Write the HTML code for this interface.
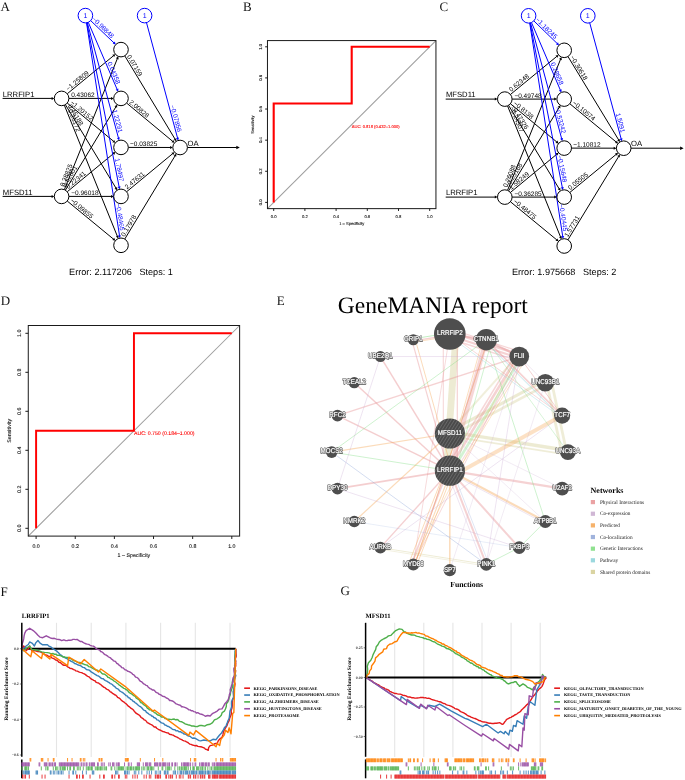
<!DOCTYPE html>
<html lang="en"><head><meta charset="utf-8"><title>Figure</title>
<style>html,body{margin:0;padding:0;background:#fff;}body{width:685px;height:780px;position:relative;overflow:hidden;font-family:"Liberation Sans",sans-serif;}svg text{white-space:pre;}</style></head>
<body>
<svg width="685" height="780" viewBox="0 0 685 780" text-rendering="geometricPrecision" style="display:block;position:absolute;left:0;top:0;will-change:transform;transform:translateZ(0)">
<rect width="685" height="780" fill="#fff"/>
<g>
<line x1="67.24" y1="93.77" x2="113.66" y2="55.63" stroke="#000" stroke-width="1.0"/>
<polygon points="115.36,54.23 114.23,57.11 112.32,54.79" fill="#000"/>
<line x1="68.9" y1="98.4" x2="111.5" y2="98.4" stroke="#000" stroke-width="1.0"/>
<polygon points="113.7,98.4 111,99.9 111,96.9" fill="#000"/>
<line x1="67.23" y1="103.05" x2="113.67" y2="141.35" stroke="#000" stroke-width="1.0"/>
<polygon points="115.37,142.75 112.33,142.19 114.24,139.88" fill="#000"/>
<line x1="65.38" y1="104.64" x2="116.08" y2="188.28" stroke="#000" stroke-width="1.0"/>
<polygon points="117.22,190.16 114.53,188.63 117.1,187.07" fill="#000"/>
<line x1="64.34" y1="105.17" x2="117.44" y2="236.49" stroke="#000" stroke-width="1.0"/>
<polygon points="118.26,238.53 115.86,236.59 118.64,235.47" fill="#000"/>
<line x1="64.34" y1="189.63" x2="117.44" y2="58.41" stroke="#000" stroke-width="1.0"/>
<polygon points="118.26,56.37 118.64,59.43 115.86,58.31" fill="#000"/>
<line x1="65.38" y1="190.16" x2="116.08" y2="106.52" stroke="#000" stroke-width="1.0"/>
<polygon points="117.22,104.64 117.1,107.73 114.53,106.17" fill="#000"/>
<line x1="67.23" y1="191.75" x2="113.67" y2="153.45" stroke="#000" stroke-width="1.0"/>
<polygon points="115.37,152.05 114.24,154.92 112.33,152.61" fill="#000"/>
<line x1="68.9" y1="196.4" x2="111.5" y2="196.4" stroke="#000" stroke-width="1.0"/>
<polygon points="113.7,196.4 111,197.9 111,194.9" fill="#000"/>
<line x1="67.24" y1="201.04" x2="113.67" y2="239.26" stroke="#000" stroke-width="1.0"/>
<polygon points="115.36,240.66 112.33,240.1 114.23,237.79" fill="#000"/>
<line x1="124.77" y1="55.85" x2="175.19" y2="139.37" stroke="#000" stroke-width="1.0"/>
<polygon points="176.33,141.25 173.65,139.71 176.22,138.16" fill="#000"/>
<line x1="126.62" y1="103.06" x2="172.79" y2="141.43" stroke="#000" stroke-width="1.0"/>
<polygon points="174.48,142.84 171.45,142.26 173.37,139.96" fill="#000"/>
<line x1="128.3" y1="147.41" x2="170.6" y2="147.48" stroke="#000" stroke-width="1.0"/>
<polygon points="172.8,147.49 170.1,148.98 170.1,145.98" fill="#000"/>
<line x1="126.62" y1="191.75" x2="172.78" y2="153.56" stroke="#000" stroke-width="1.0"/>
<polygon points="174.48,152.15 173.35,155.03 171.44,152.72" fill="#000"/>
<line x1="124.78" y1="239.05" x2="175.19" y2="155.63" stroke="#000" stroke-width="1.0"/>
<polygon points="176.32,153.75 176.21,156.83 173.64,155.28" fill="#000"/>
<line x1="90.68" y1="20.64" x2="114.13" y2="43.04" stroke="#0000ff" stroke-width="1.0"/>
<polygon points="115.72,44.56 112.73,43.78 114.8,41.61" fill="#0000ff"/>
<line x1="88.28" y1="22.31" x2="117.25" y2="89.67" stroke="#0000ff" stroke-width="1.0"/>
<polygon points="118.12,91.69 115.67,89.81 118.43,88.62" fill="#0000ff"/>
<line x1="87.3" y1="22.65" x2="118.52" y2="138.23" stroke="#0000ff" stroke-width="1.0"/>
<polygon points="119.1,140.35 116.94,138.14 119.84,137.35" fill="#0000ff"/>
<line x1="86.81" y1="22.76" x2="119.16" y2="187.08" stroke="#0000ff" stroke-width="1.0"/>
<polygon points="119.59,189.24 117.6,186.88 120.54,186.3" fill="#0000ff"/>
<line x1="86.52" y1="22.81" x2="119.55" y2="235.91" stroke="#0000ff" stroke-width="1.0"/>
<polygon points="119.88,238.09 117.99,235.65 120.95,235.19" fill="#0000ff"/>
<line x1="146.5" y1="22.65" x2="177.63" y2="138.33" stroke="#0000ff" stroke-width="1.0"/>
<polygon points="178.2,140.45 176.05,138.23 178.95,137.45" fill="#0000ff"/>
<line x1="2.6" y1="98.4" x2="52.1" y2="98.4" stroke="#000" stroke-width="1.0"/>
<polygon points="54.3,98.4 51.6,99.9 51.6,96.9" fill="#000"/>
<line x1="2.6" y1="196.4" x2="52.1" y2="196.4" stroke="#000" stroke-width="1.0"/>
<polygon points="54.3,196.4 51.6,197.9 51.6,194.9" fill="#000"/>
<line x1="187.4" y1="147.5" x2="236.8" y2="147.5" stroke="#000" stroke-width="1.0"/>
<polygon points="239.8,147.5 236.3,149.2 236.3,145.8" fill="#000"/>
<circle cx="61.6" cy="98.4" r="7.3" fill="#fff" stroke="#000" stroke-width="1.0"/>
<circle cx="61.6" cy="196.4" r="7.3" fill="#fff" stroke="#000" stroke-width="1.0"/>
<circle cx="121" cy="49.6" r="7.3" fill="#fff" stroke="#000" stroke-width="1.0"/>
<circle cx="121" cy="98.4" r="7.3" fill="#fff" stroke="#000" stroke-width="1.0"/>
<circle cx="121" cy="147.4" r="7.3" fill="#fff" stroke="#000" stroke-width="1.0"/>
<circle cx="121" cy="196.4" r="7.3" fill="#fff" stroke="#000" stroke-width="1.0"/>
<circle cx="121" cy="245.3" r="7.3" fill="#fff" stroke="#000" stroke-width="1.0"/>
<circle cx="180.1" cy="147.5" r="7.3" fill="#fff" stroke="#000" stroke-width="1.0"/>
<circle cx="85.4" cy="15.6" r="7.3" fill="#fff" stroke="#0000ff" stroke-width="1.0"/>
<text x="85.4" y="18.1" font-size="7" fill="#0000ff" text-anchor="middle" font-family="Liberation Sans, sans-serif">1</text>
<circle cx="144.6" cy="15.6" r="7.3" fill="#fff" stroke="#0000ff" stroke-width="1.0"/>
<text x="144.6" y="18.1" font-size="7" fill="#0000ff" text-anchor="middle" font-family="Liberation Sans, sans-serif">1</text>
<text transform="translate(69.02,92.31) rotate(-39.4)" y="-1.4" font-size="6.5" fill="#000" text-anchor="start" font-family="Liberation Sans, sans-serif">−1.25809</text>
<text transform="translate(71.2,98.4) rotate(0)" y="-1.4" font-size="6.5" fill="#000" text-anchor="start" font-family="Liberation Sans, sans-serif">0.43062</text>
<text transform="translate(69.01,104.51) rotate(39.52)" y="-1.4" font-size="6.5" fill="#000" text-anchor="start" font-family="Liberation Sans, sans-serif">−1.20152</text>
<text transform="translate(66.58,106.61) rotate(58.78)" y="-1.4" font-size="6.5" fill="#000" text-anchor="start" font-family="Liberation Sans, sans-serif">0.46188</text>
<text transform="translate(65.2,107.3) rotate(67.98)" y="-1.4" font-size="6.5" fill="#000" text-anchor="start" font-family="Liberation Sans, sans-serif">−0.26172</text>
<text transform="translate(65.2,187.5) rotate(-67.97)" y="-1.4" font-size="6.5" fill="#000" text-anchor="start" font-family="Liberation Sans, sans-serif">0.28825</text>
<text transform="translate(66.58,188.19) rotate(-58.78)" y="-1.4" font-size="6.5" fill="#000" text-anchor="start" font-family="Liberation Sans, sans-serif">0.52801</text>
<text transform="translate(69.01,190.29) rotate(-39.52)" y="-1.4" font-size="6.5" fill="#000" text-anchor="start" font-family="Liberation Sans, sans-serif">0.22341</text>
<text transform="translate(71.2,196.4) rotate(0)" y="-1.4" font-size="6.5" fill="#000" text-anchor="start" font-family="Liberation Sans, sans-serif">−0.96018</text>
<text transform="translate(69.01,202.5) rotate(39.46)" y="-1.4" font-size="6.5" fill="#000" text-anchor="start" font-family="Liberation Sans, sans-serif">−0.09855</text>
<text transform="translate(125.65,57.3) rotate(58.88)" y="-1.4" font-size="6.5" fill="#000" text-anchor="start" font-family="Liberation Sans, sans-serif">0.07159</text>
<text transform="translate(127.92,104.15) rotate(39.72)" y="-1.4" font-size="6.5" fill="#000" text-anchor="start" font-family="Liberation Sans, sans-serif">2.00828</text>
<text transform="translate(130,147.42) rotate(0.1)" y="-1.4" font-size="6.5" fill="#000" text-anchor="start" font-family="Liberation Sans, sans-serif">−0.03825</text>
<text transform="translate(127.93,190.66) rotate(-39.6)" y="-1.4" font-size="6.5" fill="#000" text-anchor="start" font-family="Liberation Sans, sans-serif">2.47631</text>
<text transform="translate(125.65,237.6) rotate(-58.86)" y="-1.4" font-size="6.5" fill="#000" text-anchor="start" font-family="Liberation Sans, sans-serif">0.17978</text>
<text transform="translate(110.51,39.59) rotate(43.68)" y="-1.4" font-size="6.5" fill="#0000ff" text-anchor="end" font-family="Liberation Sans, sans-serif">−0.98848</text>
<text transform="translate(115.27,85.08) rotate(66.73)" y="-1.4" font-size="6.5" fill="#0000ff" text-anchor="end" font-family="Liberation Sans, sans-serif">0.04358</text>
<text transform="translate(117.22,133.4) rotate(74.88)" y="-1.4" font-size="6.5" fill="#0000ff" text-anchor="end" font-family="Liberation Sans, sans-serif">1.22291</text>
<text transform="translate(118.2,182.17) rotate(78.86)" y="-1.4" font-size="6.5" fill="#0000ff" text-anchor="end" font-family="Liberation Sans, sans-serif">1.78497</text>
<text transform="translate(118.78,230.97) rotate(81.19)" y="-1.4" font-size="6.5" fill="#0000ff" text-anchor="end" font-family="Liberation Sans, sans-serif">−0.48465</text>
<text transform="translate(176.07,132.53) rotate(74.94)" y="-1.4" font-size="6.5" fill="#0000ff" text-anchor="end" font-family="Liberation Sans, sans-serif">−0.07856</text>
<text x="2.8" y="96.7" font-size="7.7" fill="#000" font-family="Liberation Sans, sans-serif">LRRFIP1</text>
<text x="2.8" y="194.7" font-size="7.7" fill="#000" font-family="Liberation Sans, sans-serif">MFSD11</text>
<text x="187.5" y="145.7" font-size="7.7" fill="#000" font-family="Liberation Sans, sans-serif">OA</text>
<text x="121" y="274.6" font-size="9.15" fill="#000" text-anchor="middle" xml:space="preserve" font-family="Liberation Sans, sans-serif">Error: 2.117206   Steps: 1</text>
</g>
<g>
<line x1="510.44" y1="94.47" x2="556.86" y2="56.33" stroke="#000" stroke-width="1.0"/>
<polygon points="558.56,54.93 557.43,57.81 555.52,55.49" fill="#000"/>
<line x1="512.1" y1="99.1" x2="554.7" y2="99.1" stroke="#000" stroke-width="1.0"/>
<polygon points="556.9,99.1 554.2,100.6 554.2,97.6" fill="#000"/>
<line x1="510.43" y1="103.75" x2="556.87" y2="142.05" stroke="#000" stroke-width="1.0"/>
<polygon points="558.57,143.45 555.53,142.89 557.44,140.58" fill="#000"/>
<line x1="508.58" y1="105.34" x2="559.28" y2="188.98" stroke="#000" stroke-width="1.0"/>
<polygon points="560.42,190.86 557.73,189.33 560.3,187.77" fill="#000"/>
<line x1="507.54" y1="105.87" x2="560.64" y2="237.19" stroke="#000" stroke-width="1.0"/>
<polygon points="561.46,239.23 559.06,237.29 561.84,236.17" fill="#000"/>
<line x1="507.54" y1="190.33" x2="560.64" y2="59.11" stroke="#000" stroke-width="1.0"/>
<polygon points="561.46,57.07 561.84,60.13 559.06,59.01" fill="#000"/>
<line x1="508.58" y1="190.86" x2="559.28" y2="107.22" stroke="#000" stroke-width="1.0"/>
<polygon points="560.42,105.34 560.3,108.43 557.73,106.87" fill="#000"/>
<line x1="510.43" y1="192.45" x2="556.87" y2="154.15" stroke="#000" stroke-width="1.0"/>
<polygon points="558.57,152.75 557.44,155.62 555.53,153.31" fill="#000"/>
<line x1="512.1" y1="197.1" x2="554.7" y2="197.1" stroke="#000" stroke-width="1.0"/>
<polygon points="556.9,197.1 554.2,198.6 554.2,195.6" fill="#000"/>
<line x1="510.44" y1="201.74" x2="556.87" y2="239.96" stroke="#000" stroke-width="1.0"/>
<polygon points="558.56,241.36 555.53,240.8 557.43,238.49" fill="#000"/>
<line x1="567.99" y1="56.54" x2="618.77" y2="140.08" stroke="#000" stroke-width="1.0"/>
<polygon points="619.91,141.96 617.22,140.43 619.79,138.88" fill="#000"/>
<line x1="569.83" y1="103.75" x2="616.37" y2="142.15" stroke="#000" stroke-width="1.0"/>
<polygon points="618.07,143.55 615.03,142.99 616.94,140.68" fill="#000"/>
<line x1="571.5" y1="148.11" x2="614.2" y2="148.18" stroke="#000" stroke-width="1.0"/>
<polygon points="616.4,148.19 613.7,149.68 613.7,146.68" fill="#000"/>
<line x1="569.84" y1="192.46" x2="616.36" y2="154.23" stroke="#000" stroke-width="1.0"/>
<polygon points="618.06,152.84 616.93,155.71 615.02,153.39" fill="#000"/>
<line x1="567.99" y1="239.76" x2="618.76" y2="156.32" stroke="#000" stroke-width="1.0"/>
<polygon points="619.91,154.44 619.78,157.52 617.22,155.96" fill="#000"/>
<line x1="533.84" y1="20.89" x2="557.38" y2="43.69" stroke="#0000ff" stroke-width="1.0"/>
<polygon points="558.96,45.22 555.97,44.42 558.06,42.26" fill="#0000ff"/>
<line x1="531.47" y1="22.52" x2="560.47" y2="90.36" stroke="#0000ff" stroke-width="1.0"/>
<polygon points="561.33,92.39 558.89,90.49 561.65,89.32" fill="#0000ff"/>
<line x1="530.5" y1="22.86" x2="561.73" y2="138.93" stroke="#0000ff" stroke-width="1.0"/>
<polygon points="562.3,141.05 560.15,138.83 563.05,138.05" fill="#0000ff"/>
<line x1="530.01" y1="22.97" x2="562.37" y2="187.78" stroke="#0000ff" stroke-width="1.0"/>
<polygon points="562.79,189.94 560.8,187.58 563.74,187" fill="#0000ff"/>
<line x1="529.72" y1="23.02" x2="562.75" y2="236.61" stroke="#0000ff" stroke-width="1.0"/>
<polygon points="563.08,238.79 561.19,236.35 564.15,235.89" fill="#0000ff"/>
<line x1="589.71" y1="22.86" x2="621.21" y2="139.03" stroke="#0000ff" stroke-width="1.0"/>
<polygon points="621.79,141.15 619.64,138.94 622.53,138.16" fill="#0000ff"/>
<line x1="445.7" y1="99.1" x2="495.3" y2="99.1" stroke="#000" stroke-width="1.0"/>
<polygon points="497.5,99.1 494.8,100.6 494.8,97.6" fill="#000"/>
<line x1="445.7" y1="197.1" x2="495.3" y2="197.1" stroke="#000" stroke-width="1.0"/>
<polygon points="497.5,197.1 494.8,198.6 494.8,195.6" fill="#000"/>
<line x1="631" y1="148.2" x2="680.6" y2="148.2" stroke="#000" stroke-width="1.0"/>
<polygon points="683.6,148.2 680.1,149.9 680.1,146.5" fill="#000"/>
<circle cx="504.8" cy="99.1" r="7.3" fill="#fff" stroke="#000" stroke-width="1.0"/>
<circle cx="504.8" cy="197.1" r="7.3" fill="#fff" stroke="#000" stroke-width="1.0"/>
<circle cx="564.2" cy="50.3" r="7.3" fill="#fff" stroke="#000" stroke-width="1.0"/>
<circle cx="564.2" cy="99.1" r="7.3" fill="#fff" stroke="#000" stroke-width="1.0"/>
<circle cx="564.2" cy="148.1" r="7.3" fill="#fff" stroke="#000" stroke-width="1.0"/>
<circle cx="564.2" cy="197.1" r="7.3" fill="#fff" stroke="#000" stroke-width="1.0"/>
<circle cx="564.2" cy="246" r="7.3" fill="#fff" stroke="#000" stroke-width="1.0"/>
<circle cx="623.7" cy="148.2" r="7.3" fill="#fff" stroke="#000" stroke-width="1.0"/>
<circle cx="528.6" cy="15.81" r="7.3" fill="#fff" stroke="#0000ff" stroke-width="1.0"/>
<text x="528.6" y="18.31" font-size="7" fill="#0000ff" text-anchor="middle" font-family="Liberation Sans, sans-serif">1</text>
<circle cx="587.8" cy="15.81" r="7.3" fill="#fff" stroke="#0000ff" stroke-width="1.0"/>
<text x="587.8" y="18.31" font-size="7" fill="#0000ff" text-anchor="middle" font-family="Liberation Sans, sans-serif">1</text>
<text transform="translate(512.22,93.01) rotate(-39.4)" y="-1.4" font-size="6.5" fill="#000" text-anchor="start" font-family="Liberation Sans, sans-serif">0.62348</text>
<text transform="translate(514.4,99.1) rotate(0)" y="-1.4" font-size="6.5" fill="#000" text-anchor="start" font-family="Liberation Sans, sans-serif">−0.49748</text>
<text transform="translate(512.21,105.21) rotate(39.52)" y="-1.4" font-size="6.5" fill="#000" text-anchor="start" font-family="Liberation Sans, sans-serif">−0.8138</text>
<text transform="translate(509.78,107.31) rotate(58.78)" y="-1.4" font-size="6.5" fill="#000" text-anchor="start" font-family="Liberation Sans, sans-serif">−0.47326</text>
<text transform="translate(508.4,108) rotate(67.98)" y="-1.4" font-size="6.5" fill="#000" text-anchor="start" font-family="Liberation Sans, sans-serif">−0.24507</text>
<text transform="translate(508.4,188.2) rotate(-67.97)" y="-1.4" font-size="6.5" fill="#000" text-anchor="start" font-family="Liberation Sans, sans-serif">0.26088</text>
<text transform="translate(509.78,188.89) rotate(-58.78)" y="-1.4" font-size="6.5" fill="#000" text-anchor="start" font-family="Liberation Sans, sans-serif">−0.25168</text>
<text transform="translate(512.21,190.99) rotate(-39.52)" y="-1.4" font-size="6.5" fill="#000" text-anchor="start" font-family="Liberation Sans, sans-serif">1.58249</text>
<text transform="translate(514.4,197.1) rotate(0)" y="-1.4" font-size="6.5" fill="#000" text-anchor="start" font-family="Liberation Sans, sans-serif">−0.36285</text>
<text transform="translate(512.21,203.2) rotate(39.46)" y="-1.4" font-size="6.5" fill="#000" text-anchor="start" font-family="Liberation Sans, sans-serif">−0.48475</text>
<text transform="translate(568.87,57.99) rotate(58.71)" y="-1.4" font-size="6.5" fill="#000" text-anchor="start" font-family="Liberation Sans, sans-serif">−0.30618</text>
<text transform="translate(571.14,104.83) rotate(39.53)" y="-1.4" font-size="6.5" fill="#000" text-anchor="start" font-family="Liberation Sans, sans-serif">−0.10574</text>
<text transform="translate(573.2,148.12) rotate(0.1)" y="-1.4" font-size="6.5" fill="#000" text-anchor="start" font-family="Liberation Sans, sans-serif">−1.10812</text>
<text transform="translate(571.15,191.39) rotate(-39.42)" y="-1.4" font-size="6.5" fill="#000" text-anchor="start" font-family="Liberation Sans, sans-serif">0.05505</text>
<text transform="translate(568.88,238.31) rotate(-58.68)" y="-1.4" font-size="6.5" fill="#000" text-anchor="start" font-family="Liberation Sans, sans-serif">1.57731</text>
<text transform="translate(553.79,40.21) rotate(44.09)" y="-1.4" font-size="6.5" fill="#0000ff" text-anchor="end" font-family="Liberation Sans, sans-serif">−1.18245</text>
<text transform="translate(558.5,85.77) rotate(66.86)" y="-1.4" font-size="6.5" fill="#0000ff" text-anchor="end" font-family="Liberation Sans, sans-serif">0.28658</text>
<text transform="translate(560.43,134.1) rotate(74.94)" y="-1.4" font-size="6.5" fill="#0000ff" text-anchor="end" font-family="Liberation Sans, sans-serif">−0.53242</text>
<text transform="translate(561.41,182.87) rotate(78.89)" y="-1.4" font-size="6.5" fill="#0000ff" text-anchor="end" font-family="Liberation Sans, sans-serif">−0.15648</text>
<text transform="translate(561.98,231.67) rotate(81.21)" y="-1.4" font-size="6.5" fill="#0000ff" text-anchor="end" font-family="Liberation Sans, sans-serif">−0.40445</text>
<text transform="translate(619.64,133.24) rotate(74.83)" y="-1.4" font-size="6.5" fill="#0000ff" text-anchor="end" font-family="Liberation Sans, sans-serif">1.5091</text>
<text x="445.9" y="97.4" font-size="7.7" fill="#000" font-family="Liberation Sans, sans-serif">MFSD11</text>
<text x="445.9" y="195.4" font-size="7.7" fill="#000" font-family="Liberation Sans, sans-serif">LRRFIP1</text>
<text x="631.1" y="146.4" font-size="7.7" fill="#000" font-family="Liberation Sans, sans-serif">OA</text>
<text x="564.2" y="275.3" font-size="9.15" fill="#000" text-anchor="middle" xml:space="preserve" font-family="Liberation Sans, sans-serif">Error: 1.975668   Steps: 2</text>
</g>
<g>
<line x1="267.46" y1="208.62" x2="435.94" y2="40.58" stroke="#9e9e9e" stroke-width="1.05"/>
<polyline points="273.7,202.4 273.7,103.44 351.7,103.44 351.7,46.8 429.7,46.8" fill="none" stroke="#ff0000" stroke-width="2.1" stroke-linejoin="miter"/>
<rect x="267.46" y="40.58" width="168.48" height="168.05" fill="none" stroke="#1a1a1a" stroke-width="1"/>
<line x1="273.7" y1="208.62" x2="273.7" y2="210.93" stroke="#111" stroke-width="0.95"/>
<line x1="267.46" y1="202.4" x2="265.15" y2="202.4" stroke="#111" stroke-width="0.95"/>
<text x="273.7" y="217.92" font-size="4.2" fill="#111" stroke="#111" stroke-width="0.1" text-anchor="middle" font-family="Liberation Sans, sans-serif">0.0</text>
<text transform="translate(261.76,202.4) rotate(-90)" font-size="4.2" fill="#111" stroke="#111" stroke-width="0.1" text-anchor="middle" font-family="Liberation Sans, sans-serif">0.0</text>
<line x1="304.9" y1="208.62" x2="304.9" y2="210.93" stroke="#111" stroke-width="0.95"/>
<line x1="267.46" y1="171.28" x2="265.15" y2="171.28" stroke="#111" stroke-width="0.95"/>
<text x="304.9" y="217.92" font-size="4.2" fill="#111" stroke="#111" stroke-width="0.1" text-anchor="middle" font-family="Liberation Sans, sans-serif">0.2</text>
<text transform="translate(261.76,171.28) rotate(-90)" font-size="4.2" fill="#111" stroke="#111" stroke-width="0.1" text-anchor="middle" font-family="Liberation Sans, sans-serif">0.2</text>
<line x1="336.1" y1="208.62" x2="336.1" y2="210.93" stroke="#111" stroke-width="0.95"/>
<line x1="267.46" y1="140.16" x2="265.15" y2="140.16" stroke="#111" stroke-width="0.95"/>
<text x="336.1" y="217.92" font-size="4.2" fill="#111" stroke="#111" stroke-width="0.1" text-anchor="middle" font-family="Liberation Sans, sans-serif">0.4</text>
<text transform="translate(261.76,140.16) rotate(-90)" font-size="4.2" fill="#111" stroke="#111" stroke-width="0.1" text-anchor="middle" font-family="Liberation Sans, sans-serif">0.4</text>
<line x1="367.3" y1="208.62" x2="367.3" y2="210.93" stroke="#111" stroke-width="0.95"/>
<line x1="267.46" y1="109.04" x2="265.15" y2="109.04" stroke="#111" stroke-width="0.95"/>
<text x="367.3" y="217.92" font-size="4.2" fill="#111" stroke="#111" stroke-width="0.1" text-anchor="middle" font-family="Liberation Sans, sans-serif">0.6</text>
<text transform="translate(261.76,109.04) rotate(-90)" font-size="4.2" fill="#111" stroke="#111" stroke-width="0.1" text-anchor="middle" font-family="Liberation Sans, sans-serif">0.6</text>
<line x1="398.5" y1="208.62" x2="398.5" y2="210.93" stroke="#111" stroke-width="0.95"/>
<line x1="267.46" y1="77.92" x2="265.15" y2="77.92" stroke="#111" stroke-width="0.95"/>
<text x="398.5" y="217.92" font-size="4.2" fill="#111" stroke="#111" stroke-width="0.1" text-anchor="middle" font-family="Liberation Sans, sans-serif">0.8</text>
<text transform="translate(261.76,77.92) rotate(-90)" font-size="4.2" fill="#111" stroke="#111" stroke-width="0.1" text-anchor="middle" font-family="Liberation Sans, sans-serif">0.8</text>
<line x1="429.7" y1="208.62" x2="429.7" y2="210.93" stroke="#111" stroke-width="0.95"/>
<line x1="267.46" y1="46.8" x2="265.15" y2="46.8" stroke="#111" stroke-width="0.95"/>
<text x="429.7" y="217.92" font-size="4.2" fill="#111" stroke="#111" stroke-width="0.1" text-anchor="middle" font-family="Liberation Sans, sans-serif">1.0</text>
<text transform="translate(261.76,46.8) rotate(-90)" font-size="4.2" fill="#111" stroke="#111" stroke-width="0.1" text-anchor="middle" font-family="Liberation Sans, sans-serif">1.0</text>
<text x="351.7" y="224.82" font-size="4.05" fill="#111" stroke="#111" stroke-width="0.1" text-anchor="middle" font-family="Liberation Sans, sans-serif">1 – Specificity</text>
<text transform="translate(254.46,124.6) rotate(-90)" font-size="4.05" fill="#111" stroke="#111" stroke-width="0.1" text-anchor="middle" font-family="Liberation Sans, sans-serif">Sensitivity</text>
<text x="351.7" y="128.02" font-size="4.12" fill="#ff0000" stroke="#ff0000" stroke-width="0.1" font-family="Liberation Sans, sans-serif">AUC: 0.818 (0.432–1.000)</text>
</g>
<g>
<line x1="28.27" y1="536.1" x2="239.63" y2="325.5" stroke="#9e9e9e" stroke-width="1.05"/>
<polyline points="36.1,528.3 36.1,430.8 133.95,430.8 133.95,333.3 231.8,333.3" fill="none" stroke="#ff0000" stroke-width="1.95" stroke-linejoin="miter"/>
<rect x="28.27" y="325.5" width="211.36" height="210.6" fill="none" stroke="#1a1a1a" stroke-width="1"/>
<line x1="36.1" y1="536.1" x2="36.1" y2="538.99" stroke="#111" stroke-width="0.95"/>
<line x1="28.27" y1="528.3" x2="25.38" y2="528.3" stroke="#111" stroke-width="0.95"/>
<text x="36.1" y="547.8" font-size="5.25" fill="#111" stroke="#111" stroke-width="0.1" text-anchor="middle" font-family="Liberation Sans, sans-serif">0.0</text>
<text transform="translate(20.87,528.3) rotate(-90)" font-size="5.25" fill="#111" stroke="#111" stroke-width="0.1" text-anchor="middle" font-family="Liberation Sans, sans-serif">0.0</text>
<line x1="75.24" y1="536.1" x2="75.24" y2="538.99" stroke="#111" stroke-width="0.95"/>
<line x1="28.27" y1="489.3" x2="25.38" y2="489.3" stroke="#111" stroke-width="0.95"/>
<text x="75.24" y="547.8" font-size="5.25" fill="#111" stroke="#111" stroke-width="0.1" text-anchor="middle" font-family="Liberation Sans, sans-serif">0.2</text>
<text transform="translate(20.87,489.3) rotate(-90)" font-size="5.25" fill="#111" stroke="#111" stroke-width="0.1" text-anchor="middle" font-family="Liberation Sans, sans-serif">0.2</text>
<line x1="114.38" y1="536.1" x2="114.38" y2="538.99" stroke="#111" stroke-width="0.95"/>
<line x1="28.27" y1="450.3" x2="25.38" y2="450.3" stroke="#111" stroke-width="0.95"/>
<text x="114.38" y="547.8" font-size="5.25" fill="#111" stroke="#111" stroke-width="0.1" text-anchor="middle" font-family="Liberation Sans, sans-serif">0.4</text>
<text transform="translate(20.87,450.3) rotate(-90)" font-size="5.25" fill="#111" stroke="#111" stroke-width="0.1" text-anchor="middle" font-family="Liberation Sans, sans-serif">0.4</text>
<line x1="153.52" y1="536.1" x2="153.52" y2="538.99" stroke="#111" stroke-width="0.95"/>
<line x1="28.27" y1="411.3" x2="25.38" y2="411.3" stroke="#111" stroke-width="0.95"/>
<text x="153.52" y="547.8" font-size="5.25" fill="#111" stroke="#111" stroke-width="0.1" text-anchor="middle" font-family="Liberation Sans, sans-serif">0.6</text>
<text transform="translate(20.87,411.3) rotate(-90)" font-size="5.25" fill="#111" stroke="#111" stroke-width="0.1" text-anchor="middle" font-family="Liberation Sans, sans-serif">0.6</text>
<line x1="192.66" y1="536.1" x2="192.66" y2="538.99" stroke="#111" stroke-width="0.95"/>
<line x1="28.27" y1="372.3" x2="25.38" y2="372.3" stroke="#111" stroke-width="0.95"/>
<text x="192.66" y="547.8" font-size="5.25" fill="#111" stroke="#111" stroke-width="0.1" text-anchor="middle" font-family="Liberation Sans, sans-serif">0.8</text>
<text transform="translate(20.87,372.3) rotate(-90)" font-size="5.25" fill="#111" stroke="#111" stroke-width="0.1" text-anchor="middle" font-family="Liberation Sans, sans-serif">0.8</text>
<line x1="231.8" y1="536.1" x2="231.8" y2="538.99" stroke="#111" stroke-width="0.95"/>
<line x1="28.27" y1="333.3" x2="25.38" y2="333.3" stroke="#111" stroke-width="0.95"/>
<text x="231.8" y="547.8" font-size="5.25" fill="#111" stroke="#111" stroke-width="0.1" text-anchor="middle" font-family="Liberation Sans, sans-serif">1.0</text>
<text transform="translate(20.87,333.3) rotate(-90)" font-size="5.25" fill="#111" stroke="#111" stroke-width="0.1" text-anchor="middle" font-family="Liberation Sans, sans-serif">1.0</text>
<text x="133.95" y="556.7" font-size="5.3" fill="#111" stroke="#111" stroke-width="0.1" text-anchor="middle" font-family="Liberation Sans, sans-serif">1 – Specificity</text>
<text transform="translate(11.27,430.8) rotate(-90)" font-size="5.3" fill="#111" stroke="#111" stroke-width="0.1" text-anchor="middle" font-family="Liberation Sans, sans-serif">Sensitivity</text>
<text x="133.95" y="434.5" font-size="5.2" fill="#ff0000" stroke="#ff0000" stroke-width="0.1" font-family="Liberation Sans, sans-serif">AUC: 0.750 (0.184–1.000)</text>
</g>
<g>
<defs><pattern id="hatch" width="2.7" height="2.7" patternUnits="userSpaceOnUse" patternTransform="rotate(-58)"><rect width="2.7" height="2.7" fill="#4a4a4a"/><rect width="2.7" height="0.8" fill="#6c6c6c"/></pattern></defs>
<text x="432.8" y="313.4" font-size="23.5" fill="#000" text-anchor="middle" font-family="Liberation Serif, serif">GeneMANIA report</text>
<line x1="456" y1="334" x2="446.3" y2="470.7" stroke="#d3cc92" stroke-width="6.8" stroke-opacity="0.4"/>
<line x1="451.61" y1="471.74" x2="520.93" y2="357.59" stroke="#7fdc80" stroke-width="2.6" stroke-opacity="0.336"/>
<line x1="448.87" y1="431.56" x2="544.31" y2="380.74" stroke="#d3cc92" stroke-width="3.0" stroke-opacity="0.4"/>
<line x1="451.03" y1="435.62" x2="546.47" y2="384.8" stroke="#d3cc92" stroke-width="2.6" stroke-opacity="0.36000000000000004"/>
<line x1="450.15" y1="431.92" x2="568.15" y2="450.52" stroke="#d3cc92" stroke-width="3.4" stroke-opacity="0.4"/>
<line x1="449.5" y1="436.07" x2="567.5" y2="454.67" stroke="#d3cc92" stroke-width="1.8" stroke-opacity="0.36000000000000004"/>
<line x1="546.8" y1="383" x2="561.6" y2="452" stroke="#d3cc92" stroke-width="2.8" stroke-opacity="0.36000000000000004"/>
<line x1="551.8" y1="383" x2="566.6" y2="452" stroke="#d3cc92" stroke-width="2.8" stroke-opacity="0.36000000000000004"/>
<line x1="380.38" y1="547.64" x2="486.29" y2="564.42" stroke="#d3cc92" stroke-width="0.8" stroke-opacity="0.48"/>
<line x1="380.13" y1="549.23" x2="486.04" y2="566" stroke="#d3cc92" stroke-width="0.7" stroke-opacity="0.4"/>
<line x1="448.79" y1="432.5" x2="518.1" y2="355.55" stroke="#d3cc92" stroke-width="2.0" stroke-opacity="0.32000000000000006"/>
<line x1="457.4" y1="470.69" x2="457.3" y2="333.99" stroke="#e58f92" stroke-width="1.3" stroke-opacity="0.36000000000000004"/>
<line x1="443.4" y1="470.7" x2="443.3" y2="334" stroke="#e58f92" stroke-width="1.2" stroke-opacity="0.32000000000000006"/>
<line x1="449.9" y1="470.7" x2="486.29" y2="339.78" stroke="#e58f92" stroke-width="4.6" stroke-opacity="0.36000000000000004"/>
<line x1="448.62" y1="469.92" x2="517.94" y2="355.78" stroke="#e58f92" stroke-width="2.6" stroke-opacity="0.4"/>
<line x1="446.05" y1="468.36" x2="515.37" y2="354.22" stroke="#e58f92" stroke-width="1.6" stroke-opacity="0.36000000000000004"/>
<line x1="454.17" y1="473.3" x2="523.49" y2="359.15" stroke="#e58f92" stroke-width="1.2" stroke-opacity="0.32000000000000006"/>
<line x1="450.42" y1="332.1" x2="519.84" y2="354.65" stroke="#e58f92" stroke-width="2.6" stroke-opacity="0.4"/>
<line x1="449.34" y1="335.43" x2="518.75" y2="357.98" stroke="#e58f92" stroke-width="2.2" stroke-opacity="0.4"/>
<line x1="448.41" y1="338.28" x2="517.83" y2="360.83" stroke="#e58f92" stroke-width="1.4" stroke-opacity="0.36000000000000004"/>
<line x1="451.35" y1="329.24" x2="520.76" y2="351.8" stroke="#e58f92" stroke-width="1.2" stroke-opacity="0.36000000000000004"/>
<line x1="449.8" y1="334" x2="486.29" y2="339.78" stroke="#e58f92" stroke-width="2.0" stroke-opacity="0.4"/>
<line x1="486.29" y1="339.78" x2="519.22" y2="356.56" stroke="#e58f92" stroke-width="2.0" stroke-opacity="0.4"/>
<line x1="486.29" y1="339.78" x2="562.12" y2="415.61" stroke="#e58f92" stroke-width="1.8" stroke-opacity="0.4"/>
<line x1="519.22" y1="356.56" x2="562.12" y2="415.61" stroke="#e58f92" stroke-width="1.0" stroke-opacity="0.4"/>
<line x1="449.9" y1="470.7" x2="562.12" y2="488.59" stroke="#e58f92" stroke-width="2.2" stroke-opacity="0.4"/>
<line x1="449.9" y1="470.7" x2="519.22" y2="547.64" stroke="#e58f92" stroke-width="2.0" stroke-opacity="0.4"/>
<line x1="449.9" y1="470.7" x2="486.29" y2="564.42" stroke="#e58f92" stroke-width="2.0" stroke-opacity="0.4"/>
<line x1="448.04" y1="469.97" x2="411.44" y2="563.69" stroke="#e58f92" stroke-width="1.6" stroke-opacity="0.4"/>
<line x1="449.9" y1="470.7" x2="380.38" y2="547.64" stroke="#e58f92" stroke-width="1.4" stroke-opacity="0.41600000000000004"/>
<line x1="449.9" y1="470.7" x2="337.48" y2="488.59" stroke="#e58f92" stroke-width="1.7" stroke-opacity="0.44000000000000006"/>
<line x1="449.9" y1="470.7" x2="337.48" y2="415.61" stroke="#e58f92" stroke-width="1.5" stroke-opacity="0.44000000000000006"/>
<line x1="449.9" y1="470.7" x2="354.26" y2="382.68" stroke="#e58f92" stroke-width="1.5" stroke-opacity="0.44000000000000006"/>
<line x1="449.9" y1="470.7" x2="380.38" y2="356.56" stroke="#e58f92" stroke-width="1.5" stroke-opacity="0.44000000000000006"/>
<line x1="448.46" y1="471.1" x2="411.86" y2="340.18" stroke="#e58f92" stroke-width="1.2" stroke-opacity="0.4"/>
<line x1="337.48" y1="415.61" x2="519.22" y2="356.56" stroke="#e58f92" stroke-width="1.4" stroke-opacity="0.4"/>
<line x1="413.46" y1="340.77" x2="449.96" y2="334.99" stroke="#e58f92" stroke-width="1.3" stroke-opacity="0.4"/>
<line x1="413.68" y1="342.15" x2="450.18" y2="336.37" stroke="#f5a653" stroke-width="0.9" stroke-opacity="0.4"/>
<line x1="413.31" y1="564.42" x2="519.22" y2="356.56" stroke="#e58f92" stroke-width="1.0" stroke-opacity="0.36000000000000004"/>
<line x1="413.31" y1="564.42" x2="449.8" y2="334" stroke="#e58f92" stroke-width="0.9" stroke-opacity="0.36000000000000004"/>
<line x1="414.73" y1="564.88" x2="487.72" y2="340.24" stroke="#e58f92" stroke-width="1.0" stroke-opacity="0.36000000000000004"/>
<line x1="449.8" y1="334" x2="562.12" y2="415.61" stroke="#e58f92" stroke-width="0.9" stroke-opacity="0.36000000000000004"/>
<line x1="449.8" y1="477.5" x2="562.12" y2="415.61" stroke="#f5a653" stroke-width="4.0" stroke-opacity="0.336"/>
<line x1="449.9" y1="470.7" x2="545.34" y2="521.52" stroke="#f5a653" stroke-width="2.2" stroke-opacity="0.4"/>
<line x1="451.02" y1="471.14" x2="414.42" y2="564.86" stroke="#f5a653" stroke-width="1.1" stroke-opacity="0.4"/>
<line x1="453.07" y1="471.94" x2="416.47" y2="565.66" stroke="#f5a653" stroke-width="1.0" stroke-opacity="0.4"/>
<line x1="445.62" y1="469.03" x2="409.02" y2="562.75" stroke="#f5a653" stroke-width="1.0" stroke-opacity="0.4"/>
<line x1="449.9" y1="470.7" x2="449.8" y2="570.2" stroke="#f5a653" stroke-width="1.5" stroke-opacity="0.4"/>
<line x1="449.9" y1="433.5" x2="331.7" y2="452.1" stroke="#f5a653" stroke-width="1.2" stroke-opacity="0.4"/>
<line x1="449.9" y1="433.5" x2="354.26" y2="521.52" stroke="#f5a653" stroke-width="1.2" stroke-opacity="0.4"/>
<line x1="415.23" y1="339.24" x2="451.83" y2="470.16" stroke="#f5a653" stroke-width="1.0" stroke-opacity="0.4"/>
<line x1="487.72" y1="340.24" x2="414.73" y2="564.88" stroke="#f5a653" stroke-width="0.9" stroke-opacity="0.4"/>
<line x1="517.44" y1="355.65" x2="411.52" y2="563.51" stroke="#f5a653" stroke-width="0.8" stroke-opacity="0.36000000000000004"/>
<line x1="446.62" y1="469.79" x2="483.02" y2="338.87" stroke="#f5a653" stroke-width="1.0" stroke-opacity="0.36000000000000004"/>
<line x1="455.88" y1="474.33" x2="525.2" y2="360.19" stroke="#f5a653" stroke-width="1.0" stroke-opacity="0.32000000000000006"/>
<line x1="331.7" y1="452.1" x2="449.9" y2="470.7" stroke="#7fdc80" stroke-width="0.8" stroke-opacity="0.48"/>
<line x1="331.7" y1="452.1" x2="486.29" y2="339.78" stroke="#7fdc80" stroke-width="0.8" stroke-opacity="0.48"/>
<line x1="519.22" y1="547.64" x2="545.34" y2="521.52" stroke="#7fdc80" stroke-width="0.8" stroke-opacity="0.48"/>
<line x1="519.22" y1="547.64" x2="486.29" y2="564.42" stroke="#7fdc80" stroke-width="0.8" stroke-opacity="0.48"/>
<line x1="545.34" y1="521.52" x2="486.29" y2="339.78" stroke="#7fdc80" stroke-width="0.8" stroke-opacity="0.48"/>
<line x1="486.29" y1="339.78" x2="567.9" y2="452.1" stroke="#7fdc80" stroke-width="0.7" stroke-opacity="0.44000000000000006"/>
<line x1="413.15" y1="338.79" x2="449.64" y2="333.01" stroke="#7fdc80" stroke-width="1.0" stroke-opacity="0.48"/>
<line x1="455.2" y1="472.17" x2="491.59" y2="341.25" stroke="#7fdc80" stroke-width="0.9" stroke-opacity="0.4"/>
<line x1="331.7" y1="452.1" x2="486.29" y2="564.42" stroke="#8fa6d8" stroke-width="0.8" stroke-opacity="0.48"/>
<line x1="354.26" y1="521.52" x2="519.22" y2="547.64" stroke="#8fa6d8" stroke-width="0.6" stroke-opacity="0.32000000000000006"/>
<line x1="452.23" y1="469.8" x2="488.63" y2="563.51" stroke="#8fa6d8" stroke-width="0.7" stroke-opacity="0.4"/>
<line x1="484.88" y1="341.19" x2="560.71" y2="417.02" stroke="#8ad2da" stroke-width="0.9" stroke-opacity="0.5599999999999999"/>
<line x1="448.62" y1="335.62" x2="560.94" y2="417.22" stroke="#8ad2da" stroke-width="0.7" stroke-opacity="0.48"/>
<line x1="380.38" y1="356.56" x2="519.22" y2="356.56" stroke="#c9a8d0" stroke-width="0.7" stroke-opacity="0.44000000000000006"/>
<line x1="380.38" y1="356.56" x2="337.48" y2="488.59" stroke="#c9a8d0" stroke-width="0.7" stroke-opacity="0.44000000000000006"/>
<line x1="337.48" y1="488.59" x2="519.22" y2="547.64" stroke="#c9a8d0" stroke-width="0.7" stroke-opacity="0.44000000000000006"/>
<line x1="380.38" y1="547.64" x2="562.12" y2="415.61" stroke="#c9a8d0" stroke-width="0.7" stroke-opacity="0.44000000000000006"/>
<line x1="519.22" y1="356.56" x2="486.29" y2="564.42" stroke="#c9a8d0" stroke-width="0.7" stroke-opacity="0.44000000000000006"/>
<line x1="447.1" y1="471.79" x2="483.5" y2="565.51" stroke="#c9a8d0" stroke-width="0.7" stroke-opacity="0.44000000000000006"/>
<line x1="544.4" y1="523.28" x2="448.96" y2="472.47" stroke="#c9a8d0" stroke-width="0.7" stroke-opacity="0.44000000000000006"/>
<line x1="545.34" y1="382.68" x2="486.29" y2="564.42" stroke="#c9a8d0" stroke-width="0.6" stroke-opacity="0.4"/>
<line x1="519.22" y1="356.56" x2="449.8" y2="570.2" stroke="#c9a8d0" stroke-width="0.6" stroke-opacity="0.4"/>
<line x1="562.12" y1="488.59" x2="449.9" y2="433.5" stroke="#c9a8d0" stroke-width="0.6" stroke-opacity="0.4"/>
<line x1="545.34" y1="521.52" x2="449.9" y2="433.5" stroke="#c9a8d0" stroke-width="0.6" stroke-opacity="0.4"/>
<line x1="519.22" y1="356.56" x2="545.34" y2="382.68" stroke="#c9a8d0" stroke-width="0.7" stroke-opacity="0.4"/>
<circle cx="449.8" cy="334" r="15.8" fill="#4e4e4e"/>
<circle cx="486.29" cy="339.78" r="10.7" fill="#4e4e4e"/>
<circle cx="519.22" cy="356.56" r="9.9" fill="#4e4e4e"/>
<circle cx="545.34" cy="382.68" r="8.8" fill="#4e4e4e"/>
<circle cx="562.12" cy="415.61" r="8.1" fill="#4e4e4e"/>
<circle cx="567.9" cy="452.1" r="7.9" fill="#4e4e4e"/>
<circle cx="562.12" cy="488.59" r="6.9" fill="#4e4e4e"/>
<circle cx="545.34" cy="521.52" r="6.5" fill="#4e4e4e"/>
<circle cx="519.22" cy="547.64" r="6.3" fill="#4e4e4e"/>
<circle cx="486.29" cy="564.42" r="6.3" fill="#4e4e4e"/>
<circle cx="449.8" cy="570.2" r="6.1" fill="#4e4e4e"/>
<circle cx="413.31" cy="564.42" r="6.0" fill="#4e4e4e"/>
<circle cx="380.38" cy="547.64" r="5.9" fill="#4e4e4e"/>
<circle cx="354.26" cy="521.52" r="5.8" fill="#4e4e4e"/>
<circle cx="337.48" cy="488.59" r="5.8" fill="#4e4e4e"/>
<circle cx="331.7" cy="452.1" r="5.8" fill="#4e4e4e"/>
<circle cx="337.48" cy="415.61" r="5.8" fill="#4e4e4e"/>
<circle cx="354.26" cy="382.68" r="5.6" fill="#4e4e4e"/>
<circle cx="380.38" cy="356.56" r="5.5" fill="#4e4e4e"/>
<circle cx="413.31" cy="339.78" r="5.5" fill="#4e4e4e"/>
<circle cx="449.9" cy="433.5" r="15.1" fill="url(#hatch)"/>
<circle cx="449.9" cy="470.7" r="15.1" fill="url(#hatch)"/>
<text transform="translate(449.8,335.35) scale(1,1.13)" font-size="6.25" fill="#505050" stroke="#505050" stroke-width="1.25" stroke-linejoin="round" text-anchor="middle" font-family="Liberation Sans, sans-serif">LRRFIP2</text>
<text transform="translate(449.8,335.35) scale(1,1.13)" font-size="6.25" fill="#fff" stroke="#fff" stroke-width="0.18" text-anchor="middle" font-family="Liberation Sans, sans-serif">LRRFIP2</text>
<text transform="translate(486.29,341.13) scale(1,1.13)" font-size="6.25" fill="#505050" stroke="#505050" stroke-width="1.25" stroke-linejoin="round" text-anchor="middle" font-family="Liberation Sans, sans-serif">CTNNB1</text>
<text transform="translate(486.29,341.13) scale(1,1.13)" font-size="6.25" fill="#fff" stroke="#fff" stroke-width="0.18" text-anchor="middle" font-family="Liberation Sans, sans-serif">CTNNB1</text>
<text transform="translate(519.22,357.91) scale(1,1.13)" font-size="6.25" fill="#505050" stroke="#505050" stroke-width="1.25" stroke-linejoin="round" text-anchor="middle" font-family="Liberation Sans, sans-serif">FLII</text>
<text transform="translate(519.22,357.91) scale(1,1.13)" font-size="6.25" fill="#fff" stroke="#fff" stroke-width="0.18" text-anchor="middle" font-family="Liberation Sans, sans-serif">FLII</text>
<text transform="translate(545.34,384.03) scale(1,1.13)" font-size="6.25" fill="#505050" stroke="#505050" stroke-width="1.25" stroke-linejoin="round" text-anchor="middle" font-family="Liberation Sans, sans-serif">UNC93B1</text>
<text transform="translate(545.34,384.03) scale(1,1.13)" font-size="6.25" fill="#fff" stroke="#fff" stroke-width="0.18" text-anchor="middle" font-family="Liberation Sans, sans-serif">UNC93B1</text>
<text transform="translate(562.12,416.96) scale(1,1.13)" font-size="6.25" fill="#505050" stroke="#505050" stroke-width="1.25" stroke-linejoin="round" text-anchor="middle" font-family="Liberation Sans, sans-serif">TCF7</text>
<text transform="translate(562.12,416.96) scale(1,1.13)" font-size="6.25" fill="#fff" stroke="#fff" stroke-width="0.18" text-anchor="middle" font-family="Liberation Sans, sans-serif">TCF7</text>
<text transform="translate(567.9,453.45) scale(1,1.13)" font-size="6.25" fill="#505050" stroke="#505050" stroke-width="1.25" stroke-linejoin="round" text-anchor="middle" font-family="Liberation Sans, sans-serif">UNC93A</text>
<text transform="translate(567.9,453.45) scale(1,1.13)" font-size="6.25" fill="#fff" stroke="#fff" stroke-width="0.18" text-anchor="middle" font-family="Liberation Sans, sans-serif">UNC93A</text>
<text transform="translate(562.12,489.94) scale(1,1.13)" font-size="6.25" fill="#505050" stroke="#505050" stroke-width="1.25" stroke-linejoin="round" text-anchor="middle" font-family="Liberation Sans, sans-serif">U2AF2</text>
<text transform="translate(562.12,489.94) scale(1,1.13)" font-size="6.25" fill="#fff" stroke="#fff" stroke-width="0.18" text-anchor="middle" font-family="Liberation Sans, sans-serif">U2AF2</text>
<text transform="translate(545.34,522.87) scale(1,1.13)" font-size="6.25" fill="#505050" stroke="#505050" stroke-width="1.25" stroke-linejoin="round" text-anchor="middle" font-family="Liberation Sans, sans-serif">ATP8B1</text>
<text transform="translate(545.34,522.87) scale(1,1.13)" font-size="6.25" fill="#fff" stroke="#fff" stroke-width="0.18" text-anchor="middle" font-family="Liberation Sans, sans-serif">ATP8B1</text>
<text transform="translate(519.22,548.99) scale(1,1.13)" font-size="6.25" fill="#505050" stroke="#505050" stroke-width="1.25" stroke-linejoin="round" text-anchor="middle" font-family="Liberation Sans, sans-serif">FKBP3</text>
<text transform="translate(519.22,548.99) scale(1,1.13)" font-size="6.25" fill="#fff" stroke="#fff" stroke-width="0.18" text-anchor="middle" font-family="Liberation Sans, sans-serif">FKBP3</text>
<text transform="translate(486.29,565.77) scale(1,1.13)" font-size="6.25" fill="#505050" stroke="#505050" stroke-width="1.25" stroke-linejoin="round" text-anchor="middle" font-family="Liberation Sans, sans-serif">PINK1</text>
<text transform="translate(486.29,565.77) scale(1,1.13)" font-size="6.25" fill="#fff" stroke="#fff" stroke-width="0.18" text-anchor="middle" font-family="Liberation Sans, sans-serif">PINK1</text>
<text transform="translate(449.8,571.55) scale(1,1.13)" font-size="6.25" fill="#505050" stroke="#505050" stroke-width="1.25" stroke-linejoin="round" text-anchor="middle" font-family="Liberation Sans, sans-serif">SP7</text>
<text transform="translate(449.8,571.55) scale(1,1.13)" font-size="6.25" fill="#fff" stroke="#fff" stroke-width="0.18" text-anchor="middle" font-family="Liberation Sans, sans-serif">SP7</text>
<text transform="translate(413.31,565.77) scale(1,1.13)" font-size="6.25" fill="#505050" stroke="#505050" stroke-width="1.25" stroke-linejoin="round" text-anchor="middle" font-family="Liberation Sans, sans-serif">MYD88</text>
<text transform="translate(413.31,565.77) scale(1,1.13)" font-size="6.25" fill="#fff" stroke="#fff" stroke-width="0.18" text-anchor="middle" font-family="Liberation Sans, sans-serif">MYD88</text>
<text transform="translate(380.38,548.99) scale(1,1.13)" font-size="6.25" fill="#505050" stroke="#505050" stroke-width="1.25" stroke-linejoin="round" text-anchor="middle" font-family="Liberation Sans, sans-serif">AURKB</text>
<text transform="translate(380.38,548.99) scale(1,1.13)" font-size="6.25" fill="#fff" stroke="#fff" stroke-width="0.18" text-anchor="middle" font-family="Liberation Sans, sans-serif">AURKB</text>
<text transform="translate(354.26,522.87) scale(1,1.13)" font-size="6.25" fill="#505050" stroke="#505050" stroke-width="1.25" stroke-linejoin="round" text-anchor="middle" font-family="Liberation Sans, sans-serif">NMRK2</text>
<text transform="translate(354.26,522.87) scale(1,1.13)" font-size="6.25" fill="#fff" stroke="#fff" stroke-width="0.18" text-anchor="middle" font-family="Liberation Sans, sans-serif">NMRK2</text>
<text transform="translate(337.48,489.94) scale(1,1.13)" font-size="6.25" fill="#505050" stroke="#505050" stroke-width="1.25" stroke-linejoin="round" text-anchor="middle" font-family="Liberation Sans, sans-serif">DPY30</text>
<text transform="translate(337.48,489.94) scale(1,1.13)" font-size="6.25" fill="#fff" stroke="#fff" stroke-width="0.18" text-anchor="middle" font-family="Liberation Sans, sans-serif">DPY30</text>
<text transform="translate(331.7,453.45) scale(1,1.13)" font-size="6.25" fill="#505050" stroke="#505050" stroke-width="1.25" stroke-linejoin="round" text-anchor="middle" font-family="Liberation Sans, sans-serif">MOCS2</text>
<text transform="translate(331.7,453.45) scale(1,1.13)" font-size="6.25" fill="#fff" stroke="#fff" stroke-width="0.18" text-anchor="middle" font-family="Liberation Sans, sans-serif">MOCS2</text>
<text transform="translate(337.48,416.96) scale(1,1.13)" font-size="6.25" fill="#505050" stroke="#505050" stroke-width="1.25" stroke-linejoin="round" text-anchor="middle" font-family="Liberation Sans, sans-serif">RFC2</text>
<text transform="translate(337.48,416.96) scale(1,1.13)" font-size="6.25" fill="#fff" stroke="#fff" stroke-width="0.18" text-anchor="middle" font-family="Liberation Sans, sans-serif">RFC2</text>
<text transform="translate(354.26,384.03) scale(1,1.13)" font-size="6.25" fill="#505050" stroke="#505050" stroke-width="1.25" stroke-linejoin="round" text-anchor="middle" font-family="Liberation Sans, sans-serif">TCEAL2</text>
<text transform="translate(354.26,384.03) scale(1,1.13)" font-size="6.25" fill="#fff" stroke="#fff" stroke-width="0.18" text-anchor="middle" font-family="Liberation Sans, sans-serif">TCEAL2</text>
<text transform="translate(380.38,357.91) scale(1,1.13)" font-size="6.25" fill="#505050" stroke="#505050" stroke-width="1.25" stroke-linejoin="round" text-anchor="middle" font-family="Liberation Sans, sans-serif">UBE2Q1</text>
<text transform="translate(380.38,357.91) scale(1,1.13)" font-size="6.25" fill="#fff" stroke="#fff" stroke-width="0.18" text-anchor="middle" font-family="Liberation Sans, sans-serif">UBE2Q1</text>
<text transform="translate(413.31,341.13) scale(1,1.13)" font-size="6.25" fill="#505050" stroke="#505050" stroke-width="1.25" stroke-linejoin="round" text-anchor="middle" font-family="Liberation Sans, sans-serif">GRIP1</text>
<text transform="translate(413.31,341.13) scale(1,1.13)" font-size="6.25" fill="#fff" stroke="#fff" stroke-width="0.18" text-anchor="middle" font-family="Liberation Sans, sans-serif">GRIP1</text>
<text transform="translate(449.9,434.85) scale(1,1.13)" font-size="6.25" fill="#505050" stroke="#505050" stroke-width="1.25" stroke-linejoin="round" text-anchor="middle" font-family="Liberation Sans, sans-serif">MFSD11</text>
<text transform="translate(449.9,434.85) scale(1,1.13)" font-size="6.25" fill="#fff" stroke="#fff" stroke-width="0.18" text-anchor="middle" font-family="Liberation Sans, sans-serif">MFSD11</text>
<text transform="translate(449.9,472.05) scale(1,1.13)" font-size="6.25" fill="#505050" stroke="#505050" stroke-width="1.25" stroke-linejoin="round" text-anchor="middle" font-family="Liberation Sans, sans-serif">LRRFIP1</text>
<text transform="translate(449.9,472.05) scale(1,1.13)" font-size="6.25" fill="#fff" stroke="#fff" stroke-width="0.18" text-anchor="middle" font-family="Liberation Sans, sans-serif">LRRFIP1</text>
<text x="590.6" y="492.8" font-size="8.0" font-weight="bold" fill="#000" font-family="Liberation Serif, serif">Networks</text>
<rect x="590.8" y="500" width="4.2" height="4.2" fill="#eaa2a3"/>
<text x="599.9" y="503.7" font-size="5.3" fill="#222" font-family="Liberation Serif, serif">Physical Interactions</text>
<rect x="590.8" y="511.64" width="4.2" height="4.2" fill="#d0b7d5"/>
<text x="599.9" y="515.34" font-size="5.3" fill="#222" font-family="Liberation Serif, serif">Co-expression</text>
<rect x="590.8" y="523.28" width="4.2" height="4.2" fill="#f6b26b"/>
<text x="599.9" y="526.98" font-size="5.3" fill="#222" font-family="Liberation Serif, serif">Predicted</text>
<rect x="590.8" y="534.92" width="4.2" height="4.2" fill="#a0b3dc"/>
<text x="599.9" y="538.62" font-size="5.3" fill="#222" font-family="Liberation Serif, serif">Co-localization</text>
<rect x="590.8" y="546.56" width="4.2" height="4.2" fill="#90e190"/>
<text x="599.9" y="550.26" font-size="5.3" fill="#222" font-family="Liberation Serif, serif">Genetic Interactions</text>
<rect x="590.8" y="558.2" width="4.2" height="4.2" fill="#9bd8de"/>
<text x="599.9" y="561.9" font-size="5.3" fill="#222" font-family="Liberation Serif, serif">Pathway</text>
<rect x="590.8" y="569.84" width="4.2" height="4.2" fill="#dad4a2"/>
<text x="599.9" y="573.54" font-size="5.3" fill="#222" font-family="Liberation Serif, serif">Shared protein domains</text>
<text x="466.6" y="586.6" font-size="7.8" font-weight="bold" fill="#000" text-anchor="middle" font-family="Liberation Serif, serif">Functions</text>
</g>
<g>
<line x1="56.5" y1="622.8" x2="56.5" y2="757" stroke="#e5e5e5" stroke-width="1.1"/>
<line x1="91.2" y1="622.8" x2="91.2" y2="757" stroke="#e5e5e5" stroke-width="1.1"/>
<line x1="125.9" y1="622.8" x2="125.9" y2="757" stroke="#e5e5e5" stroke-width="1.1"/>
<line x1="160.6" y1="622.8" x2="160.6" y2="757" stroke="#e5e5e5" stroke-width="1.1"/>
<line x1="195.3" y1="622.8" x2="195.3" y2="757" stroke="#e5e5e5" stroke-width="1.1"/>
<line x1="230" y1="622.8" x2="230" y2="757" stroke="#e5e5e5" stroke-width="1.1"/>
<text x="21.8" y="618.2" font-size="6.6" font-weight="bold" fill="#000" font-family="Liberation Serif, serif">LRRFIP1</text>
<text x="18.8" y="650.1" font-size="3.9" font-weight="bold" fill="#444" text-anchor="end" font-family="Liberation Serif, serif">0.0</text>
<text x="18.8" y="685.3" font-size="3.9" font-weight="bold" fill="#444" text-anchor="end" font-family="Liberation Serif, serif">−0.2</text>
<text x="18.8" y="720.6" font-size="3.9" font-weight="bold" fill="#444" text-anchor="end" font-family="Liberation Serif, serif">−0.4</text>
<text x="18.8" y="756.3" font-size="3.9" font-weight="bold" fill="#444" text-anchor="end" font-family="Liberation Serif, serif">−0.6</text>
<text transform="translate(8,689) rotate(-90)" font-size="5.4" font-weight="bold" fill="#000" text-anchor="middle" font-family="Liberation Serif, serif">Running Enrichment Score</text>
<rect x="244.2" y="687.4" width="5.8" height="1.6" fill="#e41a1c"/>
<text x="253.5" y="689.6" font-size="4.33" font-weight="bold" fill="#000" font-family="Liberation Serif, serif">KEGG_PARKINSONS_DISEASE</text>
<rect x="244.2" y="694.25" width="5.8" height="1.6" fill="#377eb8"/>
<text x="253.5" y="696.45" font-size="4.33" font-weight="bold" fill="#000" font-family="Liberation Serif, serif">KEGG_OXIDATIVE_PHOSPHORYLATION</text>
<rect x="244.2" y="701.1" width="5.8" height="1.6" fill="#4daf4a"/>
<text x="253.5" y="703.3" font-size="4.33" font-weight="bold" fill="#000" font-family="Liberation Serif, serif">KEGG_ALZHEIMERS_DISEASE</text>
<rect x="244.2" y="707.95" width="5.8" height="1.6" fill="#984ea3"/>
<text x="253.5" y="710.15" font-size="4.33" font-weight="bold" fill="#000" font-family="Liberation Serif, serif">KEGG_HUNTINGTONS_DISEASE</text>
<rect x="244.2" y="714.8" width="5.8" height="1.6" fill="#ff7f00"/>
<text x="253.5" y="717" font-size="4.33" font-weight="bold" fill="#000" font-family="Liberation Serif, serif">KEGG_PROTEASOME</text>
<line x1="21.8" y1="648.8" x2="235.7" y2="648.8" stroke="#000" stroke-width="1.9"/>
<polyline points="21.82,648.84 23.72,646 25.32,648.07 26.09,650.74 28.22,648.74 29.65,646 30.54,648.58 32.02,650.74 34.83,650.7 37.56,651.52 40.32,651.93 42.72,653.03 44.98,654.54 47.44,655.48 48.54,656.31 49.92,656.34 51.13,656.88 52.09,658.13 53.39,658.39 54.55,659.04 55.65,660.03 57.1,660.25 58.13,661.37 59.22,662.37 60.58,662.79 61.67,663.79 62.73,664.74 63.93,665.29 65.36,665.19 66.55,665.78 67.59,666.78 68.79,667.34 69.85,668.29 71.19,668.43 72.42,668.89 73.55,669.65 74.85,669.93 75.9,670.9 77.38,671.14 78.76,671.8 80.17,672.32 81.65,672.57 83.02,673.27 84.3,673.86 85.49,674.64 86.59,675.61 87.83,676.28 89.11,676.87 90.13,678.02 91.21,679.02 92.49,679.54 93.64,680.35 94.98,680.74 95.9,682.1 97.13,682.74 98.56,682.92 99.62,683.95 100.76,684.58 101.7,685.62 102.78,686.37 103.78,687.29 105.04,687.66 105.97,688.72 107.11,689.36 108.32,689.84 109.29,690.8 110.26,691.78 111.48,692.25 112.38,693.31 113.56,693.89 114.57,694.77 115.82,695.2 116.78,696.17 117.6,697.38 118.79,697.94 119.93,698.59 120.82,699.67 121.8,700.6 122.85,701.4 124.01,702.01 125,702.92 126.05,703.8 127.05,704.77 127.96,705.88 129.09,706.63 130.17,707.46 131.16,708.45 132.38,709.06 133.4,710 134.23,711.22 135.17,712.21 136.07,713.25 137.24,713.83 138.34,714.54 139.45,715.23 140.33,716.31 141.15,717.49 142.25,718.19 143.36,718.88 144.25,719.94 145.52,720.36 146.42,721.4 147.26,722.55 148.46,723.08 149.62,723.86 150.85,724.48 152.1,725.04 153.19,725.97 154.24,726.99 155.74,726.97 156.67,728.28 157.85,729.02 159.01,729.79 160.32,730.2 161.58,730.93 162.89,731.51 164.27,731.8 165.58,732.36 166.93,732.77 168.33,732.99 169.46,734.2 170.85,734.47 172.18,734.94 173.45,735.29 174.55,736.13 175.74,736.71 176.97,737.2 178.16,737.78 179.29,738.53 180.45,739.19 181.67,739.69 182.82,740.37 184.05,740.84 185.36,741.09 186.49,741.84 187.69,742.39 188.76,743.31 189.87,744.13 191.16,744.43 192.47,745.03 193.82,745.37 195.18,745.72 196.62,745.57 197.88,746.42 199.26,746.61 200.65,746.8 202.02,747.06 203.3,747.59 204.57,748.19 205.64,749.38 207.04,749.56 208.24,750.36 208.63,747.67 210.13,745.62 212.57,745.09 214.8,743.71 217.25,743.24 218.31,740.68 220,738.82 221.99,737.31 222.92,734.96 223.29,732.31 224.33,730.02 225.55,727.83 227.03,725.66 227.86,723.04 229.11,720.71 229.64,718.22 230.65,715.95 231.48,713.6 231.09,710.76 231.98,708.14 232.38,705.44 232.36,702.67 232.58,699.94 234.12,697.44 233.85,694.62 234.05,691.95 233.76,689.24 234.55,686.63 235.05,683.99 234.01,681.21 234.18,678.54 234.55,675.89 235.28,673.27 235.66,670.84 234.85,668.37 235.73,665.95 235.74,663.51 235.58,661.06 235.13,658.6 236.34,656.19 236.11,653.74 235.73,651.29 235.75,648.84" fill="none" stroke="#e41a1c" stroke-width="1.4" stroke-linejoin="round"/>
<polyline points="21.82,648.84 24.28,648.1 26.09,646 28.29,644.51 29.65,641.96 32.38,643.37 34.39,646 35.73,642.86 37.95,640.54 40.04,643.12 42.69,644.81 47.44,644.81 48.54,645.78 49.75,646.52 51.06,647.04 52.15,648.05 53.33,648.84 54.55,649.55 55.54,650.46 56.72,651.01 57.63,652.05 58.66,652.87 59.55,653.94 60.45,654.98 61.67,655.48 62.7,656.61 64.03,657.1 65.25,657.81 66.49,658.47 67.76,659.09 68.79,660.23 70.1,660.44 71.17,661.39 72.39,661.86 73.56,662.5 74.6,663.51 75.9,663.79 77.08,664.4 78.26,665.02 79.53,665.35 80.78,665.77 81.88,666.61 83.02,667.34 84.31,667.64 85.39,668.54 86.43,669.52 87.71,669.86 89.04,670.05 90.13,670.9 91.19,671.94 92.41,672.61 93.61,673.3 94.74,674.18 95.97,674.81 97.15,675.57 98.48,675.98 99.62,676.83 100.65,677.91 101.84,678.61 103.29,678.7 104.28,679.87 105.48,680.56 106.75,681.07 107.91,681.84 109.11,682.52 110.16,683.56 111.48,683.95 112.52,684.77 113.43,685.82 114.66,686.31 115.49,687.5 116.52,688.33 117.74,688.85 118.73,689.74 119.64,690.81 120.75,691.49 121.89,692.15 123.03,692.78 124.03,693.68 125,694.62 126.08,695.65 127.44,696.16 128.3,697.58 129.7,698.01 130.61,699.36 132,699.82 132.9,701.17 134.23,701.74 135.16,702.73 136.26,703.43 137.27,704.29 138.24,705.23 139.28,706.03 140.41,706.69 141.47,707.46 142.36,708.52 143.21,709.66 144.35,710.29 145.58,710.76 146.3,712.12 147.36,712.9 148.46,713.6 149.39,714.65 150.73,714.88 151.61,716.04 152.93,716.29 153.8,717.48 155.01,717.96 156.11,718.68 156.95,719.91 158.31,720.1 159.24,721.16 160.32,721.9 161.39,722.88 162.78,723.12 163.97,723.81 164.94,725.04 166.28,725.4 167.37,726.33 168.78,726.52 169.85,727.48 171.1,728.05 172.18,729.01 173.5,729.67 174.99,729.68 176.15,730.92 177.71,730.65 178.91,731.75 180.42,731.66 181.67,732.57 182.92,732.97 183.95,734.01 185.32,734.07 186.5,734.69 187.55,735.69 188.82,736.04 190.1,736.35 191.16,737.31 192.4,738.24 193.95,738.04 195.33,738.45 196.61,739.22 197.91,739.95 199.24,740.57 200.65,740.87 203.81,740.02 206.97,740.51 210.13,740.87 212.96,739.27 216.06,739.69 217.78,737.25 219.62,734.94 221.54,732.9 223.09,730.49 224.36,727.83 226.1,725.85 227.09,723.34 227.92,720.71 229.08,718.54 229.46,716.08 229.73,713.58 229.98,711.07 231.01,708.85 231.65,706.54 231.52,704.04 231.59,701.59 232.51,699.35 233.55,697.13 233.38,694.62 233.08,691.77 234.06,689.1 234.04,686.3 234.51,683.55 234.22,680.71 235.04,678.02 235.81,675.61 234.79,673.14 235.38,670.73 235.15,668.29 234.59,665.84 235.48,663.43 234.9,660.98 234.83,658.54 234.85,656.11 235.11,653.69 235.07,651.25 235.75,648.84" fill="none" stroke="#377eb8" stroke-width="1.4" stroke-linejoin="round"/>
<polyline points="21.82,648.84 23.72,650.74 26.09,648.37 29.65,646 32.02,649.55 35.58,650.03 38.64,650.53 41.51,651.93 44.47,652.36 47.44,652.64 48.88,652.84 50.27,653.4 51.69,653.76 53.2,653.54 54.55,654.3 56.07,654.21 57.34,655.38 58.87,655.2 60.29,655.56 61.67,656.2 63.01,657.01 64.52,656.83 65.89,657.52 67.37,657.5 68.79,657.86 69.93,658.57 71.27,658.73 72.3,659.76 73.41,660.56 74.71,660.84 75.9,661.41 77.27,662.12 78.71,662.53 80.27,662.42 81.54,663.56 83.02,663.79 84.41,664.49 85.92,664.84 87.42,665.21 88.61,666.59 90.13,666.87 91.33,667.41 92.44,668.19 93.58,668.9 94.81,669.32 95.94,670.07 97.28,670.15 98.34,671.08 99.62,671.38 100.83,672.11 101.82,673.3 103.03,674.04 104.52,674.17 105.69,674.99 106.85,675.84 107.74,677.24 109.13,677.58 110.25,678.53 111.48,679.2 112.69,679.83 113.73,680.79 114.91,681.48 116.05,682.24 117.08,683.23 118.21,684.02 119.2,685.07 120.42,685.68 121.45,686.67 122.6,687.4 123.68,688.3 125,688.69 126.08,689.72 127.45,690.2 128.31,691.64 129.42,692.62 130.6,693.46 131.89,694.08 132.99,695.09 134.23,695.81 135.38,696.53 136.11,697.91 137.25,698.66 138.4,699.38 139.52,700.14 140.16,701.66 141.12,702.69 142.56,702.96 143.24,704.41 144.44,705.06 145.58,705.8 146.53,706.84 147.32,708.12 148.46,708.85 149.51,709.88 151,709.88 151.98,711.08 153.37,711.31 154.31,712.6 155.64,712.98 156.63,714.16 157.78,714.96 159.13,715.26 160.32,715.97 161.35,717.01 162.75,716.98 164.01,717.37 165.04,718.43 166.4,718.51 167.44,719.53 168.79,719.22 170.15,719.43 171.5,719.64 172.86,719.18 174.22,719.07 175.57,719.89 176.93,719.53 178.17,719.95 179.15,721.12 180.36,721.66 181.71,721.79 182.87,722.46 184.04,723.1 185.18,723.81 186.41,724.27 187.75,724.7 189.11,725 190.46,725.4 191.76,726.05 193.19,725.97 194.56,726.24 195.9,726.64 197.41,726.56 198.83,725.79 200.32,725.56 201.83,725.46 204.7,726.1 207.37,724.71 210.13,724.27 212.55,722.58 214.43,719.85 217.17,718.78 219.62,717.15 221.3,715.29 222.21,712.54 224.36,711.22 225.42,708.94 226.33,706.58 226.4,703.77 227.92,701.74 228.82,699.44 229.3,696.97 230.32,694.73 230.55,692.16 231.48,689.88 232.27,687.59 232.79,685.24 232.18,682.55 232.71,680.2 233.85,678.02 234.42,675.09 235.15,672.19 234.36,669.07 235.04,666.16 235.07,663.68 235.38,661.22 235.07,658.72 235.24,656.25 235.26,653.77 235.45,651.3 235.75,648.84" fill="none" stroke="#4daf4a" stroke-width="1.4" stroke-linejoin="round"/>
<polyline points="21.82,648.84 21.97,646.26 22.28,643.73 23.12,641.34 23.72,638.88 24.09,635.94 24.78,633.13 26.09,630.58 29.65,628.21 33.21,630.58 35.67,632.83 37.95,635.32 40.09,637.18 42.69,637.69 46.25,635.8 49.81,637.69 51.25,638.29 52.74,638.55 54.3,638.31 55.74,638.88 57.22,639.33 58.75,639.5 60.25,639.81 61.67,640.54 63.07,640.05 64.5,640.07 65.96,640.68 67.38,640.49 68.79,640.07 70.19,640.25 71.57,640.13 72.92,639.41 74.31,639.4 75.71,639.6 77.09,639.35 78.2,640.18 79.34,640.9 80.52,641.54 81.96,641.45 83.02,642.44 84.41,643.11 85.82,643.74 87.28,644.15 88.79,644.42 90.13,645.28 91.72,645.89 93.4,646.17 94.88,647.18 95.89,648.33 97.11,649.07 98.42,649.59 99.7,650.18 100.65,651.48 101.99,651.93 103.02,652.77 103.94,653.81 105.01,654.58 106.21,655.1 107.3,655.81 108.28,656.75 109.4,657.41 110.57,657.98 111.48,659.04 112.6,659.71 113.42,660.93 114.8,661.15 115.84,661.97 116.63,663.25 117.82,663.8 118.75,664.82 119.81,665.59 120.91,666.31 121.66,667.64 123.05,667.83 124,668.83 125,669.72 126.47,670.16 127.7,671.26 129.19,671.65 130.53,672.43 131.86,673.27 132.73,674.35 133.92,674.92 134.8,675.99 135.62,677.13 136.99,677.42 137.99,678.28 138.9,679.3 139.64,680.59 140.7,681.36 141.87,681.97 142.81,682.93 143.72,683.95 144.95,684.39 145.95,685.34 147.21,685.7 148.07,686.96 149.1,687.84 150.19,688.6 151.38,689.13 152.4,690.03 153.86,689.95 154.87,690.89 155.72,692.17 156.9,692.72 158.14,693.12 159.05,694.28 160.32,694.62 161.47,695.4 162.58,696.25 163.95,696.47 165.17,697.06 166.27,697.96 167.56,698.37 168.67,699.26 169.65,700.44 171.05,700.57 172.35,700.97 173.53,701.68 174.67,702.47 175.64,703.68 176.93,704.11 178.15,704.54 179.36,705.03 180.6,705.4 181.53,706.76 182.88,706.81 184.13,707.16 185.36,707.58 186.55,708.13 187.7,708.79 188.73,709.8 190.08,709.88 191.16,710.75 192.58,710.76 193.8,711.64 195.17,711.86 196.32,713.01 197.83,712.63 199.06,713.47 200.32,714.14 201.72,714.25 203.02,714.78 205.27,716.24 207.77,715.52 210.13,715.97 212.27,713.73 214.88,712.41 217.19,711.05 219.3,709.13 221.99,708.85 223.47,706.38 224.83,703.8 226.74,701.74 228.19,699.67 228.99,697.25 229.4,694.62 230.29,692.25 230.19,689.63 231.11,687.37 231.69,685 232.67,682.76 232.64,680.28 233.09,677.92 234.47,675.79 234.33,673.27 233.92,670.78 233.92,668.33 235.41,666 235,663.51 235.79,661.12 235.03,658.6 235.94,656.22 235.7,653.75 236.05,651.32 235.75,648.84" fill="none" stroke="#984ea3" stroke-width="1.4" stroke-linejoin="round"/>
<polyline points="21.82,648.84 30.83,656.67 32.02,650.74 41.51,658.57 42.69,653.11 49.81,659.04 51,654.3 67.6,665.68 68.79,657.14 80.65,663.79 84.2,659.52 98.43,672.09 100.81,669 125,686.32 153.21,711.22 154.39,710.04 188.79,735.42 189.97,732.1 193.53,734.94 195.9,730.67 216.06,746.8 217.25,743.24 219.62,745.62 220.81,739.69 224.36,734.94 225.55,730.2 227.92,732.57 229.11,727.83 231.01,733.76 232.67,713.6 233.85,712.41 235.75,648.84" fill="none" stroke="#ff7f00" stroke-width="1.4" stroke-linejoin="round"/>
<line x1="21.8" y1="622.8" x2="21.8" y2="756.8" stroke="#000" stroke-width="1.5"/>
<line x1="21.8" y1="759.4" x2="21.8" y2="778.3" stroke="#000" stroke-width="1.5"/>
<line x1="19.9" y1="648.8" x2="21.8" y2="648.8" stroke="#222" stroke-width="0.6"/>
<line x1="19.9" y1="684" x2="21.8" y2="684" stroke="#222" stroke-width="0.6"/>
<line x1="19.9" y1="719.3" x2="21.8" y2="719.3" stroke="#222" stroke-width="0.6"/>
<line x1="19.9" y1="755" x2="21.8" y2="755" stroke="#222" stroke-width="0.6"/>
<path d="M30.05 758v3.5M30.8 758v3.5M41.3 758v3.5M42.05 758v3.5M42.8 758v3.5M48.05 758v3.5M53.3 758v3.5M54.05 758v3.5M67.55 758v3.5M72.05 758v3.5M80.3 758v3.5M81.05 758v3.5M83.3 758v3.5M84.8 758v3.5M99.05 758v3.5M99.8 758v3.5M101.3 758v3.5M102.05 758v3.5M125.3 758v3.5M126.05 758v3.5M126.8 758v3.5M127.55 758v3.5M128.3 758v3.5M140.3 758v3.5M154.55 758v3.5M162.8 758v3.5M190.55 758v3.5M194.3 758v3.5M195.05 758v3.5M195.8 758v3.5M216.05 758v3.5M220.55 758v3.5M222.05 758v3.5M222.8 758v3.5M230.3 758v3.5M231.05 758v3.5M231.8 758v3.5M232.55 758v3.5M233.3 758v3.5M234.05 758v3.5M234.8 758v3.5M235.55 758v3.5" stroke="#ff7f00" stroke-width="0.85" fill="none"/>
<path d="M21.8 762.4v4M22.55 762.4v4M23.3 762.4v4M24.05 762.4v4M24.8 762.4v4M25.55 762.4v4M26.3 762.4v4M27.05 762.4v4M27.8 762.4v4M28.55 762.4v4M29.3 762.4v4M39.05 762.4v4M39.8 762.4v4M44.3 762.4v4M45.05 762.4v4M45.8 762.4v4M46.55 762.4v4M48.05 762.4v4M49.55 762.4v4M50.3 762.4v4M51.8 762.4v4M52.55 762.4v4M54.05 762.4v4M54.8 762.4v4M55.55 762.4v4M59.3 762.4v4M60.05 762.4v4M60.8 762.4v4M61.55 762.4v4M62.3 762.4v4M63.05 762.4v4M63.8 762.4v4M64.55 762.4v4M65.3 762.4v4M66.05 762.4v4M66.8 762.4v4M67.55 762.4v4M68.3 762.4v4M69.05 762.4v4M69.8 762.4v4M70.55 762.4v4M71.3 762.4v4M72.05 762.4v4M72.8 762.4v4M73.55 762.4v4M74.3 762.4v4M75.05 762.4v4M75.8 762.4v4M76.55 762.4v4M77.3 762.4v4M78.05 762.4v4M78.8 762.4v4M81.05 762.4v4M81.8 762.4v4M83.3 762.4v4M84.8 762.4v4M86.3 762.4v4M87.05 762.4v4M89.3 762.4v4M90.05 762.4v4M91.55 762.4v4M92.3 762.4v4M93.05 762.4v4M93.8 762.4v4M94.55 762.4v4M97.55 762.4v4M98.3 762.4v4M101.3 762.4v4M102.8 762.4v4M104.3 762.4v4M108.8 762.4v4M110.3 762.4v4M112.55 762.4v4M113.3 762.4v4M114.05 762.4v4M116.3 762.4v4M117.8 762.4v4M118.55 762.4v4M119.3 762.4v4M124.55 762.4v4M128.3 762.4v4M129.05 762.4v4M131.3 762.4v4M137.3 762.4v4M138.05 762.4v4M138.8 762.4v4M139.55 762.4v4M143.3 762.4v4M145.55 762.4v4M146.3 762.4v4M147.05 762.4v4M147.8 762.4v4M149.3 762.4v4M150.05 762.4v4M150.8 762.4v4M154.55 762.4v4M155.3 762.4v4M156.05 762.4v4M156.8 762.4v4M157.55 762.4v4M159.05 762.4v4M159.8 762.4v4M160.55 762.4v4M162.05 762.4v4M162.8 762.4v4M163.55 762.4v4M164.3 762.4v4M165.05 762.4v4M165.8 762.4v4M167.3 762.4v4M168.8 762.4v4M169.55 762.4v4M171.8 762.4v4M172.55 762.4v4M174.8 762.4v4M175.55 762.4v4M177.05 762.4v4M181.55 762.4v4M183.05 762.4v4M183.8 762.4v4M184.55 762.4v4M185.3 762.4v4M186.05 762.4v4M186.8 762.4v4M187.55 762.4v4M188.3 762.4v4M189.05 762.4v4M190.55 762.4v4M192.8 762.4v4M195.05 762.4v4M195.8 762.4v4M199.55 762.4v4M201.05 762.4v4M201.8 762.4v4M202.55 762.4v4M203.3 762.4v4M204.05 762.4v4M205.55 762.4v4M206.3 762.4v4M207.05 762.4v4M208.55 762.4v4M209.3 762.4v4M212.3 762.4v4M213.8 762.4v4M214.55 762.4v4M216.05 762.4v4M216.8 762.4v4M217.55 762.4v4M218.3 762.4v4M219.05 762.4v4M219.8 762.4v4M220.55 762.4v4M221.3 762.4v4M222.05 762.4v4M222.8 762.4v4M223.55 762.4v4M224.3 762.4v4M225.05 762.4v4M225.8 762.4v4M226.55 762.4v4M227.3 762.4v4M228.05 762.4v4M228.8 762.4v4M229.55 762.4v4M230.3 762.4v4M231.05 762.4v4M231.8 762.4v4M232.55 762.4v4M233.3 762.4v4M234.05 762.4v4M234.8 762.4v4M235.55 762.4v4" stroke="#984ea3" stroke-width="0.85" fill="none"/>
<path d="M21.8 766.4v4M24.8 766.4v4M25.55 766.4v4M26.3 766.4v4M27.05 766.4v4M28.55 766.4v4M41.3 766.4v4M45.8 766.4v4M47.3 766.4v4M48.05 766.4v4M53.3 766.4v4M55.55 766.4v4M56.3 766.4v4M57.8 766.4v4M60.05 766.4v4M60.8 766.4v4M62.3 766.4v4M63.05 766.4v4M63.8 766.4v4M64.55 766.4v4M65.3 766.4v4M67.55 766.4v4M69.8 766.4v4M70.55 766.4v4M73.55 766.4v4M74.3 766.4v4M77.3 766.4v4M78.8 766.4v4M80.3 766.4v4M83.3 766.4v4M86.3 766.4v4M87.8 766.4v4M88.55 766.4v4M89.3 766.4v4M90.8 766.4v4M91.55 766.4v4M92.3 766.4v4M95.3 766.4v4M96.8 766.4v4M97.55 766.4v4M98.3 766.4v4M99.8 766.4v4M100.55 766.4v4M101.3 766.4v4M102.8 766.4v4M104.3 766.4v4M105.8 766.4v4M106.55 766.4v4M111.05 766.4v4M111.8 766.4v4M114.8 766.4v4M117.05 766.4v4M118.55 766.4v4M119.3 766.4v4M120.05 766.4v4M120.8 766.4v4M121.55 766.4v4M122.3 766.4v4M123.05 766.4v4M123.8 766.4v4M126.05 766.4v4M127.55 766.4v4M128.3 766.4v4M129.8 766.4v4M130.55 766.4v4M131.3 766.4v4M132.05 766.4v4M133.55 766.4v4M135.05 766.4v4M135.8 766.4v4M136.55 766.4v4M137.3 766.4v4M138.05 766.4v4M138.8 766.4v4M139.55 766.4v4M141.8 766.4v4M143.3 766.4v4M144.8 766.4v4M147.05 766.4v4M147.8 766.4v4M148.55 766.4v4M150.05 766.4v4M150.8 766.4v4M151.55 766.4v4M152.3 766.4v4M153.8 766.4v4M158.3 766.4v4M162.05 766.4v4M162.8 766.4v4M165.8 766.4v4M167.3 766.4v4M168.05 766.4v4M168.8 766.4v4M169.55 766.4v4M171.05 766.4v4M174.8 766.4v4M177.8 766.4v4M179.3 766.4v4M180.05 766.4v4M181.55 766.4v4M182.3 766.4v4M183.8 766.4v4M184.55 766.4v4M185.3 766.4v4M186.05 766.4v4M186.8 766.4v4M188.3 766.4v4M190.55 766.4v4M192.8 766.4v4M193.55 766.4v4M194.3 766.4v4M196.55 766.4v4M197.3 766.4v4M198.05 766.4v4M198.8 766.4v4M200.3 766.4v4M201.8 766.4v4M202.55 766.4v4M204.05 766.4v4M205.55 766.4v4M207.8 766.4v4M210.05 766.4v4M211.55 766.4v4M213.05 766.4v4M214.55 766.4v4M215.3 766.4v4M216.05 766.4v4M216.8 766.4v4M217.55 766.4v4M218.3 766.4v4M219.05 766.4v4M219.8 766.4v4M220.55 766.4v4M221.3 766.4v4M222.05 766.4v4M222.8 766.4v4M223.55 766.4v4M224.3 766.4v4M225.05 766.4v4M225.8 766.4v4M226.55 766.4v4M227.3 766.4v4M228.05 766.4v4M228.8 766.4v4M229.55 766.4v4M230.3 766.4v4M231.05 766.4v4M231.8 766.4v4M232.55 766.4v4M233.3 766.4v4M234.05 766.4v4M234.8 766.4v4M235.55 766.4v4" stroke="#4daf4a" stroke-width="0.85" fill="none"/>
<path d="M23.3 770.5v4M24.8 770.5v4M25.55 770.5v4M26.3 770.5v4M27.05 770.5v4M27.8 770.5v4M28.55 770.5v4M29.3 770.5v4M36.05 770.5v4M36.8 770.5v4M37.55 770.5v4M50.3 770.5v4M51.05 770.5v4M53.3 770.5v4M54.8 770.5v4M57.05 770.5v4M58.55 770.5v4M60.05 770.5v4M61.55 770.5v4M63.05 770.5v4M69.05 770.5v4M72.8 770.5v4M73.55 770.5v4M75.8 770.5v4M82.55 770.5v4M86.3 770.5v4M92.3 770.5v4M93.05 770.5v4M93.8 770.5v4M115.55 770.5v4M116.3 770.5v4M117.8 770.5v4M124.55 770.5v4M125.3 770.5v4M126.05 770.5v4M127.55 770.5v4M129.05 770.5v4M134.3 770.5v4M135.8 770.5v4M138.8 770.5v4M141.8 770.5v4M147.05 770.5v4M149.3 770.5v4M151.55 770.5v4M155.3 770.5v4M156.8 770.5v4M159.05 770.5v4M160.55 770.5v4M164.3 770.5v4M165.05 770.5v4M165.8 770.5v4M167.3 770.5v4M168.05 770.5v4M173.3 770.5v4M174.8 770.5v4M175.55 770.5v4M177.8 770.5v4M180.05 770.5v4M180.8 770.5v4M181.55 770.5v4M183.05 770.5v4M183.8 770.5v4M185.3 770.5v4M186.05 770.5v4M186.8 770.5v4M187.55 770.5v4M189.05 770.5v4M189.8 770.5v4M191.3 770.5v4M192.05 770.5v4M192.8 770.5v4M193.55 770.5v4M194.3 770.5v4M195.8 770.5v4M196.55 770.5v4M198.05 770.5v4M199.55 770.5v4M200.3 770.5v4M201.05 770.5v4M201.8 770.5v4M202.55 770.5v4M203.3 770.5v4M204.8 770.5v4M205.55 770.5v4M207.05 770.5v4M207.8 770.5v4M208.55 770.5v4M209.3 770.5v4M210.8 770.5v4M212.3 770.5v4M213.05 770.5v4M213.8 770.5v4M214.55 770.5v4M215.3 770.5v4M216.05 770.5v4M216.8 770.5v4M217.55 770.5v4M218.3 770.5v4M219.05 770.5v4M219.8 770.5v4M220.55 770.5v4M221.3 770.5v4M222.05 770.5v4M222.8 770.5v4M223.55 770.5v4M224.3 770.5v4M225.05 770.5v4M225.8 770.5v4M226.55 770.5v4M227.3 770.5v4M228.05 770.5v4M228.8 770.5v4M229.55 770.5v4M230.3 770.5v4M231.05 770.5v4M232.55 770.5v4M233.3 770.5v4M234.05 770.5v4M234.8 770.5v4M235.55 770.5v4" stroke="#377eb8" stroke-width="0.85" fill="none"/>
<path d="M22.55 774.6v4M24.05 774.6v4M25.55 774.6v4M29.3 774.6v4M42.05 774.6v4M45.05 774.6v4M69.05 774.6v4M76.55 774.6v4M77.3 774.6v4M79.55 774.6v4M82.55 774.6v4M83.3 774.6v4M90.05 774.6v4M99.8 774.6v4M103.55 774.6v4M104.3 774.6v4M111.8 774.6v4M112.55 774.6v4M114.8 774.6v4M118.55 774.6v4M119.3 774.6v4M125.3 774.6v4M126.8 774.6v4M132.8 774.6v4M135.05 774.6v4M137.3 774.6v4M144.05 774.6v4M146.3 774.6v4M149.3 774.6v4M150.8 774.6v4M155.3 774.6v4M156.05 774.6v4M157.55 774.6v4M158.3 774.6v4M159.05 774.6v4M160.55 774.6v4M165.8 774.6v4M166.55 774.6v4M168.8 774.6v4M170.3 774.6v4M171.05 774.6v4M172.55 774.6v4M176.3 774.6v4M179.3 774.6v4M180.8 774.6v4M183.05 774.6v4M188.3 774.6v4M189.05 774.6v4M190.55 774.6v4M193.55 774.6v4M195.05 774.6v4M195.8 774.6v4M198.05 774.6v4M200.3 774.6v4M201.05 774.6v4M202.55 774.6v4M204.05 774.6v4M204.8 774.6v4M208.55 774.6v4M209.3 774.6v4M210.05 774.6v4M212.3 774.6v4M213.05 774.6v4M213.8 774.6v4M214.55 774.6v4M215.3 774.6v4M216.05 774.6v4M216.8 774.6v4M217.55 774.6v4M219.05 774.6v4M219.8 774.6v4M220.55 774.6v4M221.3 774.6v4M222.05 774.6v4M222.8 774.6v4M223.55 774.6v4M224.3 774.6v4M225.05 774.6v4M225.8 774.6v4M226.55 774.6v4M227.3 774.6v4M228.05 774.6v4M228.8 774.6v4M229.55 774.6v4M230.3 774.6v4M231.05 774.6v4M231.8 774.6v4M232.55 774.6v4M233.3 774.6v4M234.05 774.6v4M234.8 774.6v4M235.55 774.6v4" stroke="#e41a1c" stroke-width="0.85" fill="none"/>
<line x1="394.7" y1="622.8" x2="394.7" y2="757" stroke="#e5e5e5" stroke-width="1.1"/>
<line x1="423.8" y1="622.8" x2="423.8" y2="757" stroke="#e5e5e5" stroke-width="1.1"/>
<line x1="452.9" y1="622.8" x2="452.9" y2="757" stroke="#e5e5e5" stroke-width="1.1"/>
<line x1="482" y1="622.8" x2="482" y2="757" stroke="#e5e5e5" stroke-width="1.1"/>
<line x1="511.1" y1="622.8" x2="511.1" y2="757" stroke="#e5e5e5" stroke-width="1.1"/>
<line x1="540.2" y1="622.8" x2="540.2" y2="757" stroke="#e5e5e5" stroke-width="1.1"/>
<text x="365.6" y="618.2" font-size="6.6" font-weight="bold" fill="#000" font-family="Liberation Serif, serif">MFSD11</text>
<text x="362.6" y="649.1" font-size="3.9" font-weight="bold" fill="#444" text-anchor="end" font-family="Liberation Serif, serif">0.25</text>
<text x="362.6" y="678.8" font-size="3.9" font-weight="bold" fill="#444" text-anchor="end" font-family="Liberation Serif, serif">0.00</text>
<text x="362.6" y="708.3" font-size="3.9" font-weight="bold" fill="#444" text-anchor="end" font-family="Liberation Serif, serif">−0.25</text>
<text x="362.6" y="737.8" font-size="3.9" font-weight="bold" fill="#444" text-anchor="end" font-family="Liberation Serif, serif">−0.50</text>
<text transform="translate(351,689) rotate(-90)" font-size="5.4" font-weight="bold" fill="#000" text-anchor="middle" font-family="Liberation Serif, serif">Running Enrichment Score</text>
<rect x="554.2" y="687.4" width="5.8" height="1.6" fill="#e41a1c"/>
<text x="564" y="689.6" font-size="4.33" font-weight="bold" fill="#000" font-family="Liberation Serif, serif">KEGG_OLFACTORY_TRANSDUCTION</text>
<rect x="554.2" y="694.25" width="5.8" height="1.6" fill="#377eb8"/>
<text x="564" y="696.45" font-size="4.33" font-weight="bold" fill="#000" font-family="Liberation Serif, serif">KEGG_TASTE_TRANSDUCTION</text>
<rect x="554.2" y="701.1" width="5.8" height="1.6" fill="#4daf4a"/>
<text x="564" y="703.3" font-size="4.33" font-weight="bold" fill="#000" font-family="Liberation Serif, serif">KEGG_SPLICEOSOME</text>
<rect x="554.2" y="707.95" width="5.8" height="1.6" fill="#984ea3"/>
<text x="564" y="710.15" font-size="4.33" font-weight="bold" fill="#000" font-family="Liberation Serif, serif">KEGG_MATURITY_ONSET_DIABETES_OF_THE_YOUNG</text>
<rect x="554.2" y="714.8" width="5.8" height="1.6" fill="#ff7f00"/>
<text x="564" y="717" font-size="4.33" font-weight="bold" fill="#000" font-family="Liberation Serif, serif">KEGG_UBIQUITIN_MEDIATED_PROTEOLYSIS</text>
<line x1="365.6" y1="677.5" x2="546.3" y2="677.5" stroke="#000" stroke-width="1.9"/>
<polyline points="366.09,677.54 367.35,678.1 368.42,679.1 369.62,679.81 370.84,680.46 372.08,681.05 373.14,682.08 374.32,682.82 375.58,683.4 376.76,684.13 378.01,684.72 379.25,685.33 380.32,686.32 381.53,686.84 382.68,687.55 383.96,687.87 385.01,688.85 386.3,689.14 387.49,689.73 388.71,690.22 389.72,691.33 390.95,691.78 392.11,692.45 393.35,692.9 394.55,693.43 396.01,693.4 397.41,693.81 398.82,694.14 400.27,694.16 401.67,694.62 403.03,695.35 404.53,695.49 405.99,695.85 407.32,696.7 408.79,696.99 410.23,697.01 411.6,697.72 413.06,697.68 414.47,697.97 415.9,698.18 417.32,697.94 418.75,697.88 420.16,697.56 421.57,697.33 423.02,697.47 424.41,697.92 425.88,697.78 427.27,698.34 428.73,698.24 430.13,698.65 431.43,699.36 432.79,699.76 434.17,700.12 435.52,700.56 436.9,700.9 438.24,701.43 439.62,701.74 441,702.05 442.26,702.78 443.52,703.5 444.94,703.68 446.14,704.61 447.47,705.11 448.86,705.38 450.18,705.88 451.48,706.48 452.72,707.1 453.96,707.71 455.07,708.68 456.42,709.01 457.72,709.46 458.93,710.15 460.04,711.12 461.22,711.92 462.54,712.3 463.77,712.94 465,713.6 466.14,714.41 467.25,715.3 468.46,715.97 469.8,716.35 471.03,717.11 472.34,717.62 473.62,718.19 474.98,718.49 476.28,719.02 477.54,719.66 478.74,720.52 480.13,720.73 481.39,721.41 482.69,721.9 484.06,722.02 485.43,722.14 486.79,722.35 488.09,723.03 489.45,723.25 490.84,723.25 492.18,723.56 493.62,723.48 495.04,723.28 496.47,723.23 497.9,723.07 499.3,722.61 500.5,723.11 501.58,723.98 502.86,724.27 503.9,723.25 504.67,721.93 505.65,720.85 506.41,719.53 507.6,718.93 508.76,718.27 509.92,717.61 511.23,717.36 512.28,716.38 513.53,715.97 514.62,714.96 515.97,714.54 517.15,713.73 518.27,712.8 519.54,712.18 520.65,711.22 521.53,710.02 522.61,709.09 523.63,708.09 524.69,707.12 525.63,706 526.62,704.94 527.76,704.11 528.55,702.87 529.59,701.88 530.47,700.72 531.23,699.45 531.99,698.17 532.76,696.91 533.69,695.81 534.79,694.79 535.6,693.44 536.61,692.33 537.33,690.89 538.43,689.88 539.53,688.57 540.91,687.65 541.99,686.32 542.7,684.9 543.33,683.44 543.81,681.89 544.36,680.39 545.29,678.94 546.26,677.54" fill="none" stroke="#e41a1c" stroke-width="1.4" stroke-linejoin="round"/>
<polyline points="366.09,677.54 400.48,700.55 401.2,696.52 406.41,700.55 418.27,707.67 420.65,705.29 426.57,708.38 428.95,705.29 434.88,706.48 439.62,704.11 451.48,711.22 465,718.34 468.46,719.53 482.69,726.64 486.25,724.27 498.11,733.05 500.48,731.39 504.04,733.76 505.23,731.39 508.79,734.94 509.97,730.2 512.34,731.39 513.53,725.46 515.9,726.64 517.09,720.71 523.02,724.27 524.2,715.97 526.57,718.34 528.24,706.48 530.13,701.74 534.88,705.29 536.77,689.88 539.62,685.13 542.47,678.02 544.36,678.02" fill="none" stroke="#377eb8" stroke-width="1.4" stroke-linejoin="round"/>
<polyline points="366.09,677.54 367.1,674.8 367.43,671.96 367.64,669.1 367.28,666.16 368.46,662.68 370.83,660.23 372.16,657.55 373.09,654.62 374.39,651.93 375.62,649.59 376.21,646.79 377.95,644.81 379.32,641.99 381.51,640.07 383.84,638.76 386.25,637.69 388.41,635.91 391,635.32 393.31,632.87 395.74,630.58 399.3,628.92 402.08,629.36 404.04,631.76 405.34,632.02 406.35,633.12 407.62,633.48 408.79,634.14 410.21,634.48 411.6,635.01 413.08,635.01 414.54,635.08 415.9,635.8 417.28,636.42 418.73,636.63 420.15,637.07 421.57,637.42 423.02,637.69 424.35,638.57 425.89,638.53 427.23,639.34 428.74,639.48 430.13,640.07 431.3,640.72 432.46,641.38 433.74,641.7 434.99,642.1 436.07,643.01 437.19,643.8 438.41,644.29 439.62,644.81 440.82,645.36 441.95,646.11 443.27,646.33 444.45,646.92 445.6,647.63 446.65,648.62 448.01,648.72 449.22,649.24 450.41,649.82 451.48,650.74 452.76,651.08 453.81,651.95 454.84,652.87 455.88,653.75 457.17,654.07 458.28,654.79 459.44,655.42 460.56,656.12 461.53,657.18 462.73,657.7 463.95,658.16 465,659.04 466.29,659.54 467.21,660.83 468.46,661.41 469.58,662.27 470.73,663.05 472.1,663.29 473.19,664.22 474.26,665.2 475.55,665.64 476.62,666.6 478.06,666.69 478.99,668.01 480.46,667.99 481.54,668.96 482.69,669.72 484.03,670.06 484.97,671.38 486.19,671.99 487.28,672.93 488.53,673.51 489.66,674.33 490.98,674.73 492.02,675.78 493.29,676.31 494.55,676.83 496.01,677.17 497.31,678.18 498.85,678.15 500.31,678.47 501.67,679.2 503,679.68 504.05,680.76 505.33,681.35 506.26,682.69 507.44,683.49 508.79,683.95 510.15,683.23 511.55,682.66 513.06,682.55 514.41,681.77 515.9,681.57 516.77,682.78 517.52,684.12 518.69,685 519.46,686.32 523.02,683.95 525.43,685.34 527.55,687.39 530.16,688.33 532.5,689.88 533.96,687.38 535.99,685.44 537.25,682.76 539.24,681.29 540.81,679.2 542,677.01 542.47,674.46 544.36,676.83" fill="none" stroke="#4daf4a" stroke-width="1.4" stroke-linejoin="round"/>
<polyline points="366.09,677.54 406.41,704.58 407.13,699.36 419.46,708.38 420.65,704.11 426.57,708.85 427.76,705.29 434.88,710.04 436.06,706.48 447.92,715.49 449.11,714.78 465,725.46 481.51,736.13 482.69,733.76 493.37,740.87 494.08,738.5 508.79,749.17 509.5,744.43 518.27,750.83 518.98,744.43 521.83,746.8 523.02,727.83 524.2,730.2 524.91,713.6 528.24,714.78 529.18,695.81 532.5,696.99 533.69,687.5 534.88,689.88 536.06,682.76 540.81,683.95 542.47,675.65 544.36,678.02" fill="none" stroke="#984ea3" stroke-width="1.4" stroke-linejoin="round"/>
<polyline points="366.09,677.54 367.09,675.19 369.1,673.6 369.65,670.9 371.35,668.9 371.59,665.85 373.21,663.79 374.97,661.15 375.58,657.86 377.52,656.31 379.14,654.3 382.69,651.93 383.68,649.26 386.45,648.65 387.44,646 389.63,644.29 392.18,643.62 394.41,642.02 396.93,641.25 398.6,638.19 400.48,635.32 402.86,632.48 404.33,632.67 405.84,632.38 407.29,633 408.79,632.95 410.22,633.15 411.63,632.77 413.07,632.93 414.48,632.68 415.9,632.48 417.28,633.09 418.79,632.86 420.19,633.35 421.6,633.78 423.02,634.14 424.31,634.41 425.26,635.7 426.54,636.03 427.87,636.19 428.92,637.17 430.13,637.69 431.34,638.22 432.59,638.63 433.79,639.2 434.89,640.03 436.18,640.31 437.23,641.3 438.43,641.86 439.62,642.44 440.91,642.73 441.89,643.93 443.31,643.85 444.46,644.55 445.46,645.66 446.81,645.77 447.94,646.53 449.09,647.23 450.31,647.72 451.48,648.37 452.61,649.1 453.73,649.83 454.87,650.55 456.14,650.96 457,652.26 458.31,652.59 459.52,653.15 460.52,654.15 461.51,655.19 462.7,655.78 463.89,656.38 465,657.14 466.16,657.76 467.39,658.19 468.46,659.04 469.61,659.83 470.88,660.31 472.16,660.78 473.32,661.52 474.52,662.18 475.52,663.34 476.64,664.18 477.87,664.77 479.23,665.05 480.43,665.69 481.37,667 482.69,667.34 484.04,667.77 485.41,668.12 486.63,668.98 487.94,669.55 489.27,670.01 490.61,670.47 491.96,670.87 493.24,671.56 494.55,672.09 495.75,672.65 496.87,673.42 498.13,673.82 499.34,674.34 500.35,675.44 501.78,675.33 502.78,676.44 504.04,676.83 505.46,676.76 506.89,677.11 508.31,677.02 509.73,676.89 511.16,676.83 512.76,676.53 514.28,675.8 515.9,675.65 517.42,675.71 518.7,676.8 520.22,676.86 521.67,677.21 523.02,678.02 525.29,679.22 527.73,679.72 530.13,680.39 532.78,681.64 534.88,683.95 537.25,683.38 539.62,682.76 543.18,681.57 544.07,678.99 545.55,676.83" fill="none" stroke="#ff7f00" stroke-width="1.4" stroke-linejoin="round"/>
<line x1="365.6" y1="622.8" x2="365.6" y2="756.8" stroke="#000" stroke-width="1.5"/>
<line x1="365.6" y1="759.4" x2="365.6" y2="778.3" stroke="#000" stroke-width="1.5"/>
<line x1="363.7" y1="647.8" x2="365.6" y2="647.8" stroke="#222" stroke-width="0.6"/>
<line x1="363.7" y1="677.5" x2="365.6" y2="677.5" stroke="#222" stroke-width="0.6"/>
<line x1="363.7" y1="707" x2="365.6" y2="707" stroke="#222" stroke-width="0.6"/>
<line x1="363.7" y1="736.5" x2="365.6" y2="736.5" stroke="#222" stroke-width="0.6"/>
<path d="M366.35 758.4v3.8M367.1 758.4v3.8M367.85 758.4v3.8M368.6 758.4v3.8M369.35 758.4v3.8M370.1 758.4v3.8M370.85 758.4v3.8M371.6 758.4v3.8M372.35 758.4v3.8M373.1 758.4v3.8M373.85 758.4v3.8M374.6 758.4v3.8M375.35 758.4v3.8M376.1 758.4v3.8M377.6 758.4v3.8M378.35 758.4v3.8M379.85 758.4v3.8M380.6 758.4v3.8M381.35 758.4v3.8M382.1 758.4v3.8M383.6 758.4v3.8M384.35 758.4v3.8M385.1 758.4v3.8M385.85 758.4v3.8M387.35 758.4v3.8M388.1 758.4v3.8M388.85 758.4v3.8M389.6 758.4v3.8M391.1 758.4v3.8M391.85 758.4v3.8M392.6 758.4v3.8M393.35 758.4v3.8M394.1 758.4v3.8M394.85 758.4v3.8M395.6 758.4v3.8M396.35 758.4v3.8M397.1 758.4v3.8M397.85 758.4v3.8M398.6 758.4v3.8M399.35 758.4v3.8M400.1 758.4v3.8M400.85 758.4v3.8M401.6 758.4v3.8M402.35 758.4v3.8M408.35 758.4v3.8M409.85 758.4v3.8M410.6 758.4v3.8M413.6 758.4v3.8M414.35 758.4v3.8M417.35 758.4v3.8M418.1 758.4v3.8M422.6 758.4v3.8M430.1 758.4v3.8M433.1 758.4v3.8M433.85 758.4v3.8M434.6 758.4v3.8M438.35 758.4v3.8M445.1 758.4v3.8M445.85 758.4v3.8M446.6 758.4v3.8M447.35 758.4v3.8M454.85 758.4v3.8M455.6 758.4v3.8M456.35 758.4v3.8M457.1 758.4v3.8M457.85 758.4v3.8M458.6 758.4v3.8M459.35 758.4v3.8M460.1 758.4v3.8M460.85 758.4v3.8M461.6 758.4v3.8M463.1 758.4v3.8M463.85 758.4v3.8M464.6 758.4v3.8M466.1 758.4v3.8M466.85 758.4v3.8M467.6 758.4v3.8M468.35 758.4v3.8M469.1 758.4v3.8M469.85 758.4v3.8M470.6 758.4v3.8M471.35 758.4v3.8M472.1 758.4v3.8M472.85 758.4v3.8M473.6 758.4v3.8M479.6 758.4v3.8M480.35 758.4v3.8M481.85 758.4v3.8M482.6 758.4v3.8M483.35 758.4v3.8M484.1 758.4v3.8M485.6 758.4v3.8M487.1 758.4v3.8M487.85 758.4v3.8M492.35 758.4v3.8M493.1 758.4v3.8M493.85 758.4v3.8M499.1 758.4v3.8M501.35 758.4v3.8M502.85 758.4v3.8M505.85 758.4v3.8M506.6 758.4v3.8M508.1 758.4v3.8M508.85 758.4v3.8M513.35 758.4v3.8M514.1 758.4v3.8M520.1 758.4v3.8M526.1 758.4v3.8M532.1 758.4v3.8M532.85 758.4v3.8M533.6 758.4v3.8M535.1 758.4v3.8M539.6 758.4v3.8M540.35 758.4v3.8M541.1 758.4v3.8M541.85 758.4v3.8M542.6 758.4v3.8M543.35 758.4v3.8M544.1 758.4v3.8M545.6 758.4v3.8" stroke="#ff7f00" stroke-width="0.85" fill="none"/>
<path d="M406.1 762.4v4M406.85 762.4v4M421.1 762.4v4M433.85 762.4v4M447.35 762.4v4M448.1 762.4v4M481.1 762.4v4M493.1 762.4v4M493.85 762.4v4M508.1 762.4v4M518.6 762.4v4M520.85 762.4v4M522.35 762.4v4M523.1 762.4v4M523.85 762.4v4M524.6 762.4v4M525.35 762.4v4M526.1 762.4v4M526.85 762.4v4M527.6 762.4v4M528.35 762.4v4M534.35 762.4v4M535.1 762.4v4M535.85 762.4v4M540.35 762.4v4M541.1 762.4v4M541.85 762.4v4M542.6 762.4v4" stroke="#984ea3" stroke-width="0.85" fill="none"/>
<path d="M366.35 766.4v4M367.1 766.4v4M367.85 766.4v4M368.6 766.4v4M370.85 766.4v4M371.6 766.4v4M372.35 766.4v4M373.1 766.4v4M374.6 766.4v4M375.35 766.4v4M376.85 766.4v4M377.6 766.4v4M378.35 766.4v4M379.1 766.4v4M379.85 766.4v4M380.6 766.4v4M381.35 766.4v4M382.1 766.4v4M382.85 766.4v4M384.35 766.4v4M385.1 766.4v4M385.85 766.4v4M386.6 766.4v4M388.1 766.4v4M388.85 766.4v4M390.35 766.4v4M391.1 766.4v4M391.85 766.4v4M392.6 766.4v4M393.35 766.4v4M394.1 766.4v4M394.85 766.4v4M395.6 766.4v4M396.35 766.4v4M397.1 766.4v4M397.85 766.4v4M398.6 766.4v4M408.35 766.4v4M414.35 766.4v4M415.85 766.4v4M417.35 766.4v4M418.85 766.4v4M419.6 766.4v4M421.85 766.4v4M424.1 766.4v4M424.85 766.4v4M427.85 766.4v4M429.35 766.4v4M432.35 766.4v4M433.1 766.4v4M434.6 766.4v4M435.35 766.4v4M436.1 766.4v4M438.35 766.4v4M449.6 766.4v4M450.35 766.4v4M451.1 766.4v4M453.35 766.4v4M454.1 766.4v4M455.6 766.4v4M460.1 766.4v4M461.6 766.4v4M463.85 766.4v4M474.35 766.4v4M475.1 766.4v4M477.35 766.4v4M478.1 766.4v4M478.85 766.4v4M485.6 766.4v4M486.35 766.4v4M488.6 766.4v4M501.35 766.4v4M510.35 766.4v4M511.85 766.4v4M513.35 766.4v4M518.6 766.4v4M531.35 766.4v4M532.1 766.4v4M532.85 766.4v4M533.6 766.4v4M534.35 766.4v4M535.1 766.4v4M535.85 766.4v4M538.1 766.4v4M538.85 766.4v4M541.85 766.4v4M542.6 766.4v4" stroke="#4daf4a" stroke-width="0.85" fill="none"/>
<path d="M400.1 770.5v4M400.85 770.5v4M418.1 770.5v4M419.6 770.5v4M420.35 770.5v4M422.6 770.5v4M423.35 770.5v4M424.1 770.5v4M426.35 770.5v4M427.85 770.5v4M428.6 770.5v4M433.1 770.5v4M435.35 770.5v4M437.6 770.5v4M439.85 770.5v4M452.6 770.5v4M457.85 770.5v4M463.1 770.5v4M463.85 770.5v4M466.85 770.5v4M475.85 770.5v4M478.85 770.5v4M480.35 770.5v4M481.85 770.5v4M482.6 770.5v4M483.35 770.5v4M490.1 770.5v4M491.6 770.5v4M495.35 770.5v4M500.6 770.5v4M502.1 770.5v4M503.6 770.5v4M507.35 770.5v4M512.6 770.5v4M520.1 770.5v4M523.85 770.5v4M526.1 770.5v4M528.35 770.5v4M530.6 770.5v4M531.35 770.5v4M532.85 770.5v4M533.6 770.5v4M534.35 770.5v4M535.85 770.5v4M536.6 770.5v4M537.35 770.5v4M538.1 770.5v4M541.1 770.5v4M544.85 770.5v4" stroke="#377eb8" stroke-width="0.85" fill="none"/>
<path d="M380.6 774.6v4M386.6 774.6v4M391.1 774.6v4M394.85 774.6v4M395.6 774.6v4M396.35 774.6v4M397.1 774.6v4M397.85 774.6v4M398.6 774.6v4M399.35 774.6v4M400.1 774.6v4M400.85 774.6v4M401.6 774.6v4M402.35 774.6v4M403.1 774.6v4M403.85 774.6v4M404.6 774.6v4M405.35 774.6v4M406.1 774.6v4M406.85 774.6v4M407.6 774.6v4M408.35 774.6v4M409.1 774.6v4M409.85 774.6v4M410.6 774.6v4M411.35 774.6v4M412.1 774.6v4M412.85 774.6v4M413.6 774.6v4M414.35 774.6v4M415.1 774.6v4M415.85 774.6v4M416.6 774.6v4M417.35 774.6v4M418.1 774.6v4M418.85 774.6v4M419.6 774.6v4M420.35 774.6v4M421.1 774.6v4M421.85 774.6v4M422.6 774.6v4M423.35 774.6v4M424.1 774.6v4M424.85 774.6v4M425.6 774.6v4M426.35 774.6v4M427.1 774.6v4M427.85 774.6v4M428.6 774.6v4M429.35 774.6v4M430.1 774.6v4M430.85 774.6v4M431.6 774.6v4M432.35 774.6v4M433.1 774.6v4M433.85 774.6v4M434.6 774.6v4M435.35 774.6v4M436.1 774.6v4M436.85 774.6v4M437.6 774.6v4M438.35 774.6v4M439.1 774.6v4M439.85 774.6v4M440.6 774.6v4M441.35 774.6v4M442.1 774.6v4M442.85 774.6v4M443.6 774.6v4M445.1 774.6v4M445.85 774.6v4M446.6 774.6v4M447.35 774.6v4M448.1 774.6v4M448.85 774.6v4M449.6 774.6v4M450.35 774.6v4M451.1 774.6v4M451.85 774.6v4M452.6 774.6v4M453.35 774.6v4M454.1 774.6v4M454.85 774.6v4M455.6 774.6v4M456.35 774.6v4M457.1 774.6v4M457.85 774.6v4M458.6 774.6v4M459.35 774.6v4M460.1 774.6v4M460.85 774.6v4M461.6 774.6v4M462.35 774.6v4M463.1 774.6v4M463.85 774.6v4M464.6 774.6v4M465.35 774.6v4M466.1 774.6v4M466.85 774.6v4M467.6 774.6v4M468.35 774.6v4M469.1 774.6v4M469.85 774.6v4M470.6 774.6v4M471.35 774.6v4M472.1 774.6v4M472.85 774.6v4M473.6 774.6v4M474.35 774.6v4M475.1 774.6v4M475.85 774.6v4M476.6 774.6v4M478.1 774.6v4M478.85 774.6v4M479.6 774.6v4M480.35 774.6v4M481.1 774.6v4M481.85 774.6v4M482.6 774.6v4M483.35 774.6v4M484.1 774.6v4M484.85 774.6v4M485.6 774.6v4M486.35 774.6v4M487.1 774.6v4M487.85 774.6v4M488.6 774.6v4M489.35 774.6v4M490.1 774.6v4M490.85 774.6v4M491.6 774.6v4M492.35 774.6v4M493.1 774.6v4M493.85 774.6v4M494.6 774.6v4M495.35 774.6v4M496.1 774.6v4M496.85 774.6v4M497.6 774.6v4M498.35 774.6v4M499.1 774.6v4M499.85 774.6v4M502.85 774.6v4M503.6 774.6v4M504.35 774.6v4M505.1 774.6v4M505.85 774.6v4M507.35 774.6v4M508.1 774.6v4M508.85 774.6v4M509.6 774.6v4M510.35 774.6v4M511.1 774.6v4M511.85 774.6v4M512.6 774.6v4M513.35 774.6v4M514.1 774.6v4M514.85 774.6v4M515.6 774.6v4M516.35 774.6v4M517.1 774.6v4M517.85 774.6v4M518.6 774.6v4M519.35 774.6v4M520.1 774.6v4M520.85 774.6v4M521.6 774.6v4M522.35 774.6v4M523.1 774.6v4M523.85 774.6v4M524.6 774.6v4M525.35 774.6v4M526.1 774.6v4M526.85 774.6v4M527.6 774.6v4M528.35 774.6v4M529.1 774.6v4M529.85 774.6v4M530.6 774.6v4M531.35 774.6v4M532.1 774.6v4M532.85 774.6v4M533.6 774.6v4M534.35 774.6v4M535.1 774.6v4M535.85 774.6v4M536.6 774.6v4M537.35 774.6v4M538.1 774.6v4M538.85 774.6v4M539.6 774.6v4M540.35 774.6v4M541.1 774.6v4M541.85 774.6v4M542.6 774.6v4M543.35 774.6v4M544.1 774.6v4M544.85 774.6v4M545.6 774.6v4" stroke="#e41a1c" stroke-width="0.85" fill="none"/>
</g>
<text x="0.6" y="11.4" font-size="13" fill="#111" font-family="Liberation Serif, serif">A</text>
<text x="243" y="11.3" font-size="13" fill="#111" font-family="Liberation Serif, serif">B</text>
<text x="439.6" y="11.3" font-size="13" fill="#111" font-family="Liberation Serif, serif">C</text>
<text x="0.8" y="305.2" font-size="13" fill="#111" font-family="Liberation Serif, serif">D</text>
<text x="276.8" y="304.7" font-size="13" fill="#111" font-family="Liberation Serif, serif">E</text>
<text x="0.6" y="595.6" font-size="13" fill="#111" font-family="Liberation Serif, serif">F</text>
<text x="340.6" y="594.9" font-size="13" fill="#111" font-family="Liberation Serif, serif">G</text>
</svg>
</body></html>
